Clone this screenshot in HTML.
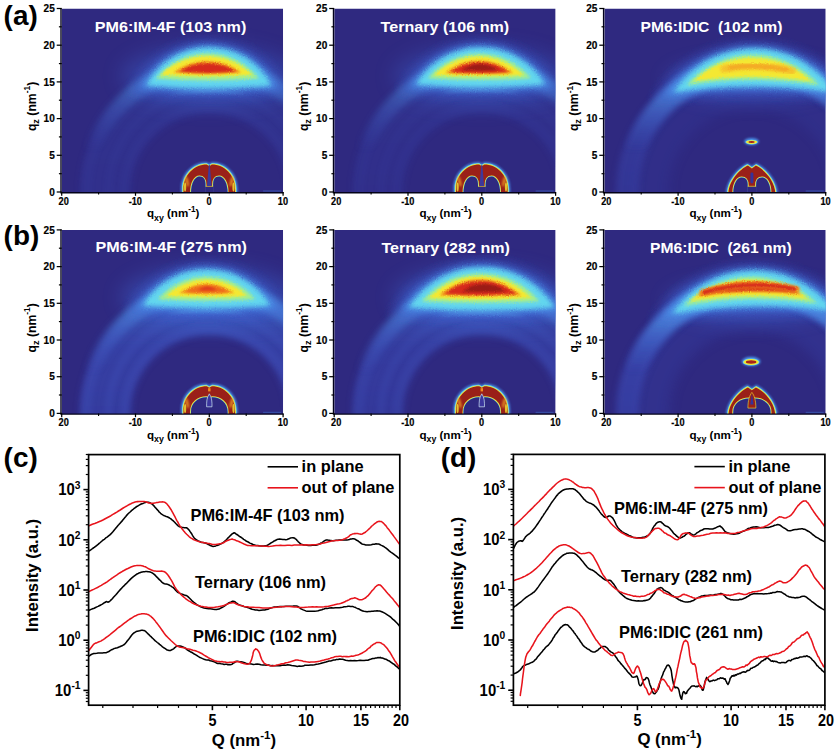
<!DOCTYPE html>
<html><head><meta charset="utf-8"><title>GIWAXS figure</title>
<style>html,body{margin:0;padding:0;background:#fff;}svg{display:block;}</style>
</head><body>
<svg width="838" height="755" viewBox="0 0 838 755">
<defs>
<clipPath id="cp0"><rect x="61.7" y="8.5" width="221.4" height="184.1"/></clipPath>
<clipPath id="cp1"><rect x="334.2" y="8.5" width="221.4" height="184.1"/></clipPath>
<clipPath id="cp2"><rect x="604.3" y="8.5" width="221.4" height="184.1"/></clipPath>
<clipPath id="cp3"><rect x="61.7" y="229.9" width="221.4" height="184.1"/></clipPath>
<clipPath id="cp4"><rect x="334.2" y="229.9" width="221.4" height="184.1"/></clipPath>
<clipPath id="cp5"><rect x="604.3" y="229.9" width="221.4" height="184.1"/></clipPath>
<linearGradient id="hg0" gradientUnits="userSpaceOnUse" x1="0" y1="52.0" x2="0" y2="192.0"><stop offset="0" stop-color="#4f88e2"/><stop offset="0.22" stop-color="#456cd2"/><stop offset="0.55" stop-color="#3d50bc"/><stop offset="1" stop-color="#3b4ab4"/></linearGradient>
<linearGradient id="hg1" gradientUnits="userSpaceOnUse" x1="0" y1="273.4" x2="0" y2="413.4"><stop offset="0" stop-color="#4f88e2"/><stop offset="0.22" stop-color="#456cd2"/><stop offset="0.55" stop-color="#3d50bc"/><stop offset="1" stop-color="#3b4ab4"/></linearGradient>
<linearGradient id="wg0" gradientUnits="userSpaceOnUse" x1="0" y1="57.0" x2="0" y2="152.0"><stop offset="0" stop-color="#66d0f0" stop-opacity="1"/><stop offset="0.3" stop-color="#56a6ea" stop-opacity="0.95"/><stop offset="0.6" stop-color="#4a7cdc" stop-opacity="0.55"/><stop offset="1" stop-color="#4468d0" stop-opacity="0"/></linearGradient>
<linearGradient id="wg1" gradientUnits="userSpaceOnUse" x1="0" y1="278.4" x2="0" y2="373.4"><stop offset="0" stop-color="#66d0f0" stop-opacity="1"/><stop offset="0.3" stop-color="#56a6ea" stop-opacity="0.95"/><stop offset="0.6" stop-color="#4a7cdc" stop-opacity="0.55"/><stop offset="1" stop-color="#4468d0" stop-opacity="0"/></linearGradient>
<filter id="b0_3" x="-60%" y="-60%" width="220%" height="220%"><feGaussianBlur stdDeviation="0.3"/></filter>
<filter id="b0_35" x="-60%" y="-60%" width="220%" height="220%"><feGaussianBlur stdDeviation="0.35"/></filter>
<filter id="b0_4" x="-60%" y="-60%" width="220%" height="220%"><feGaussianBlur stdDeviation="0.4"/></filter>
<filter id="b0_5" x="-60%" y="-60%" width="220%" height="220%"><feGaussianBlur stdDeviation="0.5"/></filter>
<filter id="b0_7" x="-60%" y="-60%" width="220%" height="220%"><feGaussianBlur stdDeviation="0.7"/></filter>
<filter id="b0_8" x="-60%" y="-60%" width="220%" height="220%"><feGaussianBlur stdDeviation="0.8"/></filter>
<filter id="b0_9" x="-60%" y="-60%" width="220%" height="220%"><feGaussianBlur stdDeviation="0.9"/></filter>
<filter id="b1_0" x="-60%" y="-60%" width="220%" height="220%"><feGaussianBlur stdDeviation="1.0"/></filter>
<filter id="b1_1" x="-60%" y="-60%" width="220%" height="220%"><feGaussianBlur stdDeviation="1.1"/></filter>
<filter id="b1_2" x="-60%" y="-60%" width="220%" height="220%"><feGaussianBlur stdDeviation="1.2"/></filter>
<filter id="b1_4" x="-60%" y="-60%" width="220%" height="220%"><feGaussianBlur stdDeviation="1.4"/></filter>
<filter id="b1_5" x="-60%" y="-60%" width="220%" height="220%"><feGaussianBlur stdDeviation="1.5"/></filter>
<filter id="b2_0" x="-60%" y="-60%" width="220%" height="220%"><feGaussianBlur stdDeviation="2.0"/></filter>
<filter id="b2_5" x="-60%" y="-60%" width="220%" height="220%"><feGaussianBlur stdDeviation="2.5"/></filter>
<filter id="b3" x="-60%" y="-60%" width="220%" height="220%"><feGaussianBlur stdDeviation="3"/></filter>
<filter id="b3_2" x="-60%" y="-60%" width="220%" height="220%"><feGaussianBlur stdDeviation="3.2"/></filter>
<filter id="b5" x="-60%" y="-60%" width="220%" height="220%"><feGaussianBlur stdDeviation="5"/></filter>
<filter id="b6" x="-60%" y="-60%" width="220%" height="220%"><feGaussianBlur stdDeviation="6"/></filter>
<filter id="b9" x="-60%" y="-60%" width="220%" height="220%"><feGaussianBlur stdDeviation="9"/></filter>
<filter id="b10" x="-60%" y="-60%" width="220%" height="220%"><feGaussianBlur stdDeviation="10"/></filter>
<filter id="grain" x="-15%" y="-30%" width="130%" height="160%"><feTurbulence type="fractalNoise" baseFrequency="0.85" numOctaves="1" seed="7" result="n"/><feDisplacementMap in="SourceGraphic" in2="n" scale="3.2" xChannelSelector="R" yChannelSelector="G"/></filter>
</defs>
<rect width="838" height="755" fill="#fff"/>
<g clip-path="url(#cp0)">
<rect x="61.7" y="8.5" width="221.4" height="184.5" fill="#2f2980"/>
<circle cx="209.3" cy="192.0" r="104" fill="none" stroke="url(#hg0)" stroke-width="52" opacity="0.22" filter="url(#b3)"/>
<circle cx="209.3" cy="192.0" r="123" fill="none" stroke="#4a60cc" stroke-width="11" opacity="0.06" filter="url(#b2_5)"/>
<circle cx="209.3" cy="192.0" r="101" fill="none" stroke="#4a60cc" stroke-width="8" opacity="0.06" filter="url(#b2_5)"/>
<circle cx="209.3" cy="192.0" r="85" fill="none" stroke="#4a60cc" stroke-width="9" opacity="0.06" filter="url(#b2_5)"/>
<ellipse cx="209.3" cy="76.0" rx="88" ry="30" fill="#4068d4" opacity="0.36" filter="url(#b10)"/>
<circle cx="209.3" cy="192.0" r="124.5" fill="none" stroke="url(#wg0)" stroke-width="17" opacity="0.4" filter="url(#b3)"/>
<g filter="url(#grain)">
<path d="M170.21,93.80 A180.29,180.29 0 0 1 247.59,93.80 A624.25,624.25 0 0 0 170.21,93.80Z" fill="#6cc8ee" opacity="0.5" filter="url(#b1_4)"/>
<path d="M129.10,93.00 A85.96,85.96 0 0 1 288.70,93.00 A561.45,561.45 0 0 1 129.10,93.00Z" fill="#3f63d6" opacity="0.38" filter="url(#b5)"/>
<path d="M139.90,88.00 A76.47,76.47 0 0 1 277.90,88.00 A568.89,568.89 0 0 1 139.90,88.00Z" fill="#4a8fe8" opacity="0.8" filter="url(#b3_2)"/>
<path d="M146.50,85.20 A70.40,70.40 0 0 1 271.30,85.20 A629.58,629.58 0 0 1 146.50,85.20Z" fill="#62d6ee" opacity="1" filter="url(#b2_0)"/>
<path d="M156.06,78.48 A65.09,65.09 0 0 1 258.87,78.48 A668.28,668.28 0 0 1 156.06,78.48Z" fill="#a6ee8c" opacity="1" filter="url(#b1_5)"/>
<path d="M160.82,74.80 A65.38,65.38 0 0 1 252.18,74.80 A696.15,696.15 0 0 1 160.82,74.80Z" fill="#f4e833" opacity="1" filter="url(#b1_2)"/>
<path d="M173.42,72.56 A55.60,55.60 0 0 1 241.21,72.56 A401.91,401.91 0 0 1 173.42,72.56Z" fill="#f3901f" opacity="1.0" filter="url(#b1_0)"/>
<path d="M179.34,71.50 A53.12,53.12 0 0 1 236.05,71.50 A287.85,287.85 0 0 1 179.34,71.50Z" fill="#d62a1d" opacity="1.0" filter="url(#b0_9)"/>
</g>
<path d="M180.90,193.00 L180.90,189.00 C180.90,173.40 192.83,162.00 206.46,162.00 L209.30,163.60 L212.14,162.00 C225.77,162.00 237.70,173.40 237.70,189.00 L237.70,193.00Z" fill="#4a8fe8" opacity="0.9" filter="url(#b1_2)"/>
<path d="M182.00,193.00 L182.00,189.11 C182.00,174.08 193.47,163.10 206.57,163.10 L209.30,164.70 L212.03,163.10 C225.13,163.10 236.60,174.08 236.60,189.11 L236.60,193.00Z" fill="#62d6ee" filter="url(#b0_5)"/>
<path d="M182.70,193.00 L182.70,189.18 C182.70,174.52 193.87,163.80 206.64,163.80 L209.30,165.40 L211.96,163.80 C224.73,163.80 235.90,174.52 235.90,189.18 L235.90,193.00Z" fill="#f4e833" filter="url(#b0_35)"/>
<path d="M183.50,193.00 L183.50,189.26 C183.50,175.01 194.34,164.60 206.72,164.60 L209.30,166.20 L211.88,164.60 C224.26,164.60 235.10,175.01 235.10,189.26 L235.10,193.00Z" fill="#9a2019"/>
<path d="M191.00,193.00 C191.00,182.64 195.06,176.40 199.41,176.40 C204.05,176.40 205.50,179.52 205.50,184.98 L205.50,193.00Z" fill="#f4e833" stroke="#f4e833" stroke-width="2.0" filter="url(#b0_4)"/>
<path d="M191.00,193.00 C191.00,182.64 195.06,176.40 199.41,176.40 C204.05,176.40 205.50,179.52 205.50,184.98 L205.50,193.00Z" fill="#62d6ee" stroke="#62d6ee" stroke-width="0.7" filter="url(#b0_35)"/>
<path d="M191.00,193.00 C191.00,182.64 195.06,176.40 199.41,176.40 C204.05,176.40 205.50,179.52 205.50,184.98 L205.50,193.00Z" fill="#2f2980"/>
<path d="M227.60,193.00 C227.60,182.64 223.54,176.40 219.19,176.40 C214.55,176.40 213.10,179.52 213.10,184.98 L213.10,193.00Z" fill="#f4e833" stroke="#f4e833" stroke-width="2.0" filter="url(#b0_4)"/>
<path d="M227.60,193.00 C227.60,182.64 223.54,176.40 219.19,176.40 C214.55,176.40 213.10,179.52 213.10,184.98 L213.10,193.00Z" fill="#62d6ee" stroke="#62d6ee" stroke-width="0.7" filter="url(#b0_35)"/>
<path d="M227.60,193.00 C227.60,182.64 223.54,176.40 219.19,176.40 C214.55,176.40 213.10,179.52 213.10,184.98 L213.10,193.00Z" fill="#2f2980"/>
<rect x="205.20" y="186.40" width="8.20" height="7" fill="#2f2980"/>
<line x1="205.50" x2="213.10" y1="186.30" y2="186.30" stroke="#f4e833" stroke-width="0.8" opacity="0.8"/>
<path d="M208.80,165.10 L207.00,186.00 L211.60,186.00 L209.80,165.10Z" fill="#3d379c" filter="url(#b0_5)"/>
<ellipse cx="187.00" cy="181.50" rx="1.5" ry="5.2" transform="rotate(-14 187.00 181.50)" fill="#f0a024" opacity="0.85" filter="url(#b0_9)"/>
<ellipse cx="185.10" cy="187.00" rx="1.1" ry="4.5" fill="#f4e833" opacity="0.8" filter="url(#b0_7)"/>
<ellipse cx="231.60" cy="181.50" rx="1.5" ry="5.2" transform="rotate(14 231.60 181.50)" fill="#f0a024" opacity="0.85" filter="url(#b0_9)"/>
<ellipse cx="233.50" cy="187.00" rx="1.1" ry="4.5" fill="#f4e833" opacity="0.8" filter="url(#b0_7)"/>
<rect x="263.1" y="190.4" width="18" height="1.2" fill="#4a8fe8" opacity="0.35" filter="url(#b0_5)"/>
</g>
<text x="94.7" y="32.3" textLength="151.6" lengthAdjust="spacingAndGlyphs" xml:space="preserve" font-family="Liberation Sans, Arial, sans-serif" font-weight="bold" font-size="15.4" fill="#fff">PM6:IM-4F (103 nm)</text>
<path d="M61.0,8.2 V192.8 H283.6" fill="none" stroke="#03021a" stroke-width="1.4"/>
<line x1="56.7" x2="61.7" y1="192.0" y2="192.0" stroke="#000" stroke-width="1.25"/>
<text transform="translate(54.8,195.6) scale(0.915,1)" text-anchor="end" font-family="Liberation Sans, Arial, sans-serif" font-weight="bold" font-size="11.0" stroke="#000" stroke-width="0.2">0</text>
<line x1="56.7" x2="61.7" y1="155.3" y2="155.3" stroke="#000" stroke-width="1.25"/>
<text transform="translate(54.8,158.9) scale(0.915,1)" text-anchor="end" font-family="Liberation Sans, Arial, sans-serif" font-weight="bold" font-size="11.0" stroke="#000" stroke-width="0.2">5</text>
<line x1="56.7" x2="61.7" y1="118.6" y2="118.6" stroke="#000" stroke-width="1.25"/>
<text transform="translate(54.8,122.2) scale(0.915,1)" text-anchor="end" font-family="Liberation Sans, Arial, sans-serif" font-weight="bold" font-size="11.0" stroke="#000" stroke-width="0.2">10</text>
<line x1="56.7" x2="61.7" y1="81.9" y2="81.9" stroke="#000" stroke-width="1.25"/>
<text transform="translate(54.8,85.5) scale(0.915,1)" text-anchor="end" font-family="Liberation Sans, Arial, sans-serif" font-weight="bold" font-size="11.0" stroke="#000" stroke-width="0.2">15</text>
<line x1="56.7" x2="61.7" y1="45.2" y2="45.2" stroke="#000" stroke-width="1.25"/>
<text transform="translate(54.8,48.8) scale(0.915,1)" text-anchor="end" font-family="Liberation Sans, Arial, sans-serif" font-weight="bold" font-size="11.0" stroke="#000" stroke-width="0.2">20</text>
<line x1="56.7" x2="61.7" y1="8.5" y2="8.5" stroke="#000" stroke-width="1.25"/>
<text transform="translate(54.8,12.1) scale(0.915,1)" text-anchor="end" font-family="Liberation Sans, Arial, sans-serif" font-weight="bold" font-size="11.0" stroke="#000" stroke-width="0.2">25</text>
<line x1="58.9" x2="61.7" y1="173.7" y2="173.7" stroke="#000" stroke-width="1.2"/>
<line x1="58.9" x2="61.7" y1="136.9" y2="136.9" stroke="#000" stroke-width="1.2"/>
<line x1="58.9" x2="61.7" y1="100.2" y2="100.2" stroke="#000" stroke-width="1.2"/>
<line x1="58.9" x2="61.7" y1="63.6" y2="63.6" stroke="#000" stroke-width="1.2"/>
<line x1="58.9" x2="61.7" y1="26.8" y2="26.8" stroke="#000" stroke-width="1.2"/>
<line x1="61.7" x2="61.7" y1="192.0" y2="195.8" stroke="#000" stroke-width="1.25"/>
<text transform="translate(63.7,204.8) scale(0.92,1)" text-anchor="middle" font-family="Liberation Sans, Arial, sans-serif" font-weight="bold" font-size="10.0" stroke="#000" stroke-width="0.2">20</text>
<line x1="135.5" x2="135.5" y1="192.0" y2="195.8" stroke="#000" stroke-width="1.25"/>
<text transform="translate(135.3,204.8) scale(0.92,1)" text-anchor="middle" font-family="Liberation Sans, Arial, sans-serif" font-weight="bold" font-size="10.0" stroke="#000" stroke-width="0.2">-10</text>
<line x1="209.3" x2="209.3" y1="192.0" y2="195.8" stroke="#000" stroke-width="1.25"/>
<text transform="translate(209.1,204.8) scale(0.92,1)" text-anchor="middle" font-family="Liberation Sans, Arial, sans-serif" font-weight="bold" font-size="10.0" stroke="#000" stroke-width="0.2">0</text>
<line x1="283.1" x2="283.1" y1="192.0" y2="195.8" stroke="#000" stroke-width="1.25"/>
<text transform="translate(282.9,204.8) scale(0.92,1)" text-anchor="middle" font-family="Liberation Sans, Arial, sans-serif" font-weight="bold" font-size="10.0" stroke="#000" stroke-width="0.2">10</text>
<line x1="98.6" x2="98.6" y1="192.0" y2="194.6" stroke="#000" stroke-width="1.1"/>
<line x1="172.4" x2="172.4" y1="192.0" y2="194.6" stroke="#000" stroke-width="1.1"/>
<line x1="246.2" x2="246.2" y1="192.0" y2="194.6" stroke="#000" stroke-width="1.1"/>
<text x="146.9" y="217.4" font-family="Liberation Sans, Arial, sans-serif" font-weight="bold" font-size="11.6">q<tspan dy="3.6" font-size="8.8">xy</tspan><tspan dy="-3.6"> (nm</tspan><tspan dy="-5" font-size="8.2">-1</tspan><tspan dy="5">)</tspan></text>
<text transform="translate(35.7,131.1) rotate(-90)" font-family="Liberation Sans, Arial, sans-serif" font-weight="bold" font-size="12.2">q<tspan dy="3.0" font-size="9.2">z</tspan><tspan dy="-3.0"> (nm</tspan><tspan dy="-5.8" font-size="8.4">-1</tspan><tspan dy="5.8">)</tspan></text>
<g clip-path="url(#cp1)">
<rect x="334.2" y="8.5" width="221.4" height="184.5" fill="#2f2980"/>
<circle cx="481.8" cy="192.0" r="104" fill="none" stroke="url(#hg0)" stroke-width="52" opacity="0.19" filter="url(#b3)"/>
<circle cx="481.8" cy="192.0" r="123" fill="none" stroke="#4a60cc" stroke-width="11" opacity="0.05" filter="url(#b2_5)"/>
<circle cx="481.8" cy="192.0" r="101" fill="none" stroke="#4a60cc" stroke-width="8" opacity="0.05" filter="url(#b2_5)"/>
<circle cx="481.8" cy="192.0" r="85" fill="none" stroke="#4a60cc" stroke-width="9" opacity="0.05" filter="url(#b2_5)"/>
<ellipse cx="481.8" cy="76.0" rx="88" ry="30" fill="#4068d4" opacity="0.33" filter="url(#b10)"/>
<circle cx="481.8" cy="192.0" r="124.5" fill="none" stroke="url(#wg0)" stroke-width="17" opacity="0.4" filter="url(#b3)"/>
<g filter="url(#grain)">
<path d="M440.72,92.70 A190.53,190.53 0 0 1 520.28,92.70 A660.09,660.09 0 0 0 440.72,92.70Z" fill="#6cc8ee" opacity="0.5" filter="url(#b1_4)"/>
<path d="M398.44,92.00 A90.24,90.24 0 0 1 562.56,92.00 A604.05,604.05 0 0 1 398.44,92.00Z" fill="#3f63d6" opacity="0.38" filter="url(#b5)"/>
<path d="M409.55,87.00 A80.75,80.75 0 0 1 551.46,87.00 A616.03,616.03 0 0 1 409.55,87.00Z" fill="#4a8fe8" opacity="0.8" filter="url(#b3_2)"/>
<path d="M416.33,84.20 A74.65,74.65 0 0 1 544.67,84.20 A687.76,687.76 0 0 1 416.33,84.20Z" fill="#62d6ee" opacity="1" filter="url(#b2_0)"/>
<path d="M428.03,78.26 A66.15,66.15 0 0 1 530.94,78.26 A753.04,753.04 0 0 1 428.03,78.26Z" fill="#a6ee8c" opacity="1" filter="url(#b1_5)"/>
<path d="M434.18,75.10 A63.07,63.07 0 0 1 523.42,75.10 A830.35,830.35 0 0 1 434.18,75.10Z" fill="#f4e833" opacity="1" filter="url(#b1_2)"/>
<path d="M445.28,72.99 A52.45,52.45 0 0 1 513.13,72.99 A541.38,541.38 0 0 1 445.28,72.99Z" fill="#f3901f" opacity="1.0" filter="url(#b1_0)"/>
<path d="M450.51,72.00 A48.27,48.27 0 0 1 508.29,72.00 A417.82,417.82 0 0 1 450.51,72.00Z" fill="#d62a1d" opacity="1.0" filter="url(#b0_9)"/>
<path d="M461.64,70.00 A31.96,31.96 0 0 1 498.36,70.00 A241.13,241.13 0 0 1 461.64,70.00Z" fill="#9c1f18" opacity="1" filter="url(#b0_9)"/>
</g>
<path d="M453.40,193.00 L453.40,189.00 C453.40,173.40 465.33,162.00 478.96,162.00 L481.80,163.60 L484.64,162.00 C498.27,162.00 510.20,173.40 510.20,189.00 L510.20,193.00Z" fill="#4a8fe8" opacity="0.9" filter="url(#b1_2)"/>
<path d="M454.50,193.00 L454.50,189.11 C454.50,174.08 465.97,163.10 479.07,163.10 L481.80,164.70 L484.53,163.10 C497.63,163.10 509.10,174.08 509.10,189.11 L509.10,193.00Z" fill="#62d6ee" filter="url(#b0_5)"/>
<path d="M455.20,193.00 L455.20,189.18 C455.20,174.52 466.37,163.80 479.14,163.80 L481.80,165.40 L484.46,163.80 C497.23,163.80 508.40,174.52 508.40,189.18 L508.40,193.00Z" fill="#f4e833" filter="url(#b0_35)"/>
<path d="M456.00,193.00 L456.00,189.26 C456.00,175.01 466.84,164.60 479.22,164.60 L481.80,166.20 L484.38,164.60 C496.76,164.60 507.60,175.01 507.60,189.26 L507.60,193.00Z" fill="#9a2019"/>
<path d="M463.50,193.00 C463.50,182.64 467.56,176.40 471.91,176.40 C476.55,176.40 478.00,179.52 478.00,184.98 L478.00,193.00Z" fill="#f4e833" stroke="#f4e833" stroke-width="2.0" filter="url(#b0_4)"/>
<path d="M463.50,193.00 C463.50,182.64 467.56,176.40 471.91,176.40 C476.55,176.40 478.00,179.52 478.00,184.98 L478.00,193.00Z" fill="#62d6ee" stroke="#62d6ee" stroke-width="0.7" filter="url(#b0_35)"/>
<path d="M463.50,193.00 C463.50,182.64 467.56,176.40 471.91,176.40 C476.55,176.40 478.00,179.52 478.00,184.98 L478.00,193.00Z" fill="#2f2980"/>
<path d="M500.10,193.00 C500.10,182.64 496.04,176.40 491.69,176.40 C487.05,176.40 485.60,179.52 485.60,184.98 L485.60,193.00Z" fill="#f4e833" stroke="#f4e833" stroke-width="2.0" filter="url(#b0_4)"/>
<path d="M500.10,193.00 C500.10,182.64 496.04,176.40 491.69,176.40 C487.05,176.40 485.60,179.52 485.60,184.98 L485.60,193.00Z" fill="#62d6ee" stroke="#62d6ee" stroke-width="0.7" filter="url(#b0_35)"/>
<path d="M500.10,193.00 C500.10,182.64 496.04,176.40 491.69,176.40 C487.05,176.40 485.60,179.52 485.60,184.98 L485.60,193.00Z" fill="#2f2980"/>
<rect x="477.70" y="186.40" width="8.20" height="7" fill="#2f2980"/>
<line x1="478.00" x2="485.60" y1="186.30" y2="186.30" stroke="#f4e833" stroke-width="0.8" opacity="0.8"/>
<path d="M481.30,165.10 L479.50,186.00 L484.10,186.00 L482.30,165.10Z" fill="#3d379c" filter="url(#b0_5)"/>
<ellipse cx="459.50" cy="181.50" rx="1.5" ry="5.2" transform="rotate(-14 459.50 181.50)" fill="#f0a024" opacity="0.85" filter="url(#b0_9)"/>
<ellipse cx="457.60" cy="187.00" rx="1.1" ry="4.5" fill="#f4e833" opacity="0.8" filter="url(#b0_7)"/>
<ellipse cx="504.10" cy="181.50" rx="1.5" ry="5.2" transform="rotate(14 504.10 181.50)" fill="#f0a024" opacity="0.85" filter="url(#b0_9)"/>
<ellipse cx="506.00" cy="187.00" rx="1.1" ry="4.5" fill="#f4e833" opacity="0.8" filter="url(#b0_7)"/>
<rect x="535.6" y="190.4" width="18" height="1.2" fill="#4a8fe8" opacity="0.35" filter="url(#b0_5)"/>
</g>
<text x="380.6" y="32.4" textLength="128.6" lengthAdjust="spacingAndGlyphs" xml:space="preserve" font-family="Liberation Sans, Arial, sans-serif" font-weight="bold" font-size="15.4" fill="#fff">Ternary (106 nm)</text>
<path d="M333.5,8.2 V192.8 H556.1" fill="none" stroke="#03021a" stroke-width="1.4"/>
<line x1="329.2" x2="334.2" y1="192.0" y2="192.0" stroke="#000" stroke-width="1.25"/>
<text transform="translate(327.3,195.6) scale(0.915,1)" text-anchor="end" font-family="Liberation Sans, Arial, sans-serif" font-weight="bold" font-size="11.0" stroke="#000" stroke-width="0.2">0</text>
<line x1="329.2" x2="334.2" y1="155.3" y2="155.3" stroke="#000" stroke-width="1.25"/>
<text transform="translate(327.3,158.9) scale(0.915,1)" text-anchor="end" font-family="Liberation Sans, Arial, sans-serif" font-weight="bold" font-size="11.0" stroke="#000" stroke-width="0.2">5</text>
<line x1="329.2" x2="334.2" y1="118.6" y2="118.6" stroke="#000" stroke-width="1.25"/>
<text transform="translate(327.3,122.2) scale(0.915,1)" text-anchor="end" font-family="Liberation Sans, Arial, sans-serif" font-weight="bold" font-size="11.0" stroke="#000" stroke-width="0.2">10</text>
<line x1="329.2" x2="334.2" y1="81.9" y2="81.9" stroke="#000" stroke-width="1.25"/>
<text transform="translate(327.3,85.5) scale(0.915,1)" text-anchor="end" font-family="Liberation Sans, Arial, sans-serif" font-weight="bold" font-size="11.0" stroke="#000" stroke-width="0.2">15</text>
<line x1="329.2" x2="334.2" y1="45.2" y2="45.2" stroke="#000" stroke-width="1.25"/>
<text transform="translate(327.3,48.8) scale(0.915,1)" text-anchor="end" font-family="Liberation Sans, Arial, sans-serif" font-weight="bold" font-size="11.0" stroke="#000" stroke-width="0.2">20</text>
<line x1="329.2" x2="334.2" y1="8.5" y2="8.5" stroke="#000" stroke-width="1.25"/>
<text transform="translate(327.3,12.1) scale(0.915,1)" text-anchor="end" font-family="Liberation Sans, Arial, sans-serif" font-weight="bold" font-size="11.0" stroke="#000" stroke-width="0.2">25</text>
<line x1="331.4" x2="334.2" y1="173.7" y2="173.7" stroke="#000" stroke-width="1.2"/>
<line x1="331.4" x2="334.2" y1="136.9" y2="136.9" stroke="#000" stroke-width="1.2"/>
<line x1="331.4" x2="334.2" y1="100.2" y2="100.2" stroke="#000" stroke-width="1.2"/>
<line x1="331.4" x2="334.2" y1="63.6" y2="63.6" stroke="#000" stroke-width="1.2"/>
<line x1="331.4" x2="334.2" y1="26.8" y2="26.8" stroke="#000" stroke-width="1.2"/>
<line x1="334.2" x2="334.2" y1="192.0" y2="195.8" stroke="#000" stroke-width="1.25"/>
<text transform="translate(336.2,204.8) scale(0.92,1)" text-anchor="middle" font-family="Liberation Sans, Arial, sans-serif" font-weight="bold" font-size="10.0" stroke="#000" stroke-width="0.2">20</text>
<line x1="408.0" x2="408.0" y1="192.0" y2="195.8" stroke="#000" stroke-width="1.25"/>
<text transform="translate(407.8,204.8) scale(0.92,1)" text-anchor="middle" font-family="Liberation Sans, Arial, sans-serif" font-weight="bold" font-size="10.0" stroke="#000" stroke-width="0.2">-10</text>
<line x1="481.8" x2="481.8" y1="192.0" y2="195.8" stroke="#000" stroke-width="1.25"/>
<text transform="translate(481.6,204.8) scale(0.92,1)" text-anchor="middle" font-family="Liberation Sans, Arial, sans-serif" font-weight="bold" font-size="10.0" stroke="#000" stroke-width="0.2">0</text>
<line x1="555.6" x2="555.6" y1="192.0" y2="195.8" stroke="#000" stroke-width="1.25"/>
<text transform="translate(555.4,204.8) scale(0.92,1)" text-anchor="middle" font-family="Liberation Sans, Arial, sans-serif" font-weight="bold" font-size="10.0" stroke="#000" stroke-width="0.2">10</text>
<line x1="371.1" x2="371.1" y1="192.0" y2="194.6" stroke="#000" stroke-width="1.1"/>
<line x1="444.9" x2="444.9" y1="192.0" y2="194.6" stroke="#000" stroke-width="1.1"/>
<line x1="518.7" x2="518.7" y1="192.0" y2="194.6" stroke="#000" stroke-width="1.1"/>
<text x="419.4" y="217.4" font-family="Liberation Sans, Arial, sans-serif" font-weight="bold" font-size="11.6">q<tspan dy="3.6" font-size="8.8">xy</tspan><tspan dy="-3.6"> (nm</tspan><tspan dy="-5" font-size="8.2">-1</tspan><tspan dy="5">)</tspan></text>
<text transform="translate(308.2,131.1) rotate(-90)" font-family="Liberation Sans, Arial, sans-serif" font-weight="bold" font-size="12.2">q<tspan dy="3.0" font-size="9.2">z</tspan><tspan dy="-3.0"> (nm</tspan><tspan dy="-5.8" font-size="8.4">-1</tspan><tspan dy="5.8">)</tspan></text>
<g clip-path="url(#cp2)">
<rect x="604.3" y="8.5" width="221.4" height="184.5" fill="#2f2980"/>
<circle cx="751.9" cy="192.0" r="100" fill="none" stroke="#3843a8" stroke-width="34" opacity="0.23" filter="url(#b6)"/>
<circle cx="751.9" cy="192.0" r="124.5" fill="none" stroke="url(#hg0)" stroke-width="23" opacity="0.42" filter="url(#b3)"/>
<ellipse cx="751.9" cy="80.0" rx="86" ry="22" fill="#4068d4" opacity="0.36" filter="url(#b9)"/>
<circle cx="751.9" cy="192.0" r="124.5" fill="none" stroke="url(#wg0)" stroke-width="20" opacity="0.75" filter="url(#b3)"/>
<g filter="url(#grain)">
<path d="M651.59,100.00 A117.78,117.78 0 0 1 856.41,100.00 A1458.44,1458.44 0 0 0 651.59,100.00Z" fill="#3f63d6" opacity="0.38" filter="url(#b5)"/>
<path d="M665.45,95.00 A104.40,104.40 0 0 1 842.55,95.00 A771.29,771.29 0 0 0 665.45,95.00Z" fill="#4a8fe8" opacity="0.8" filter="url(#b3_2)"/>
<path d="M673.92,92.20 A95.58,95.58 0 0 1 834.08,92.20 A520.26,520.26 0 0 0 673.92,92.20Z" fill="#62d6ee" opacity="1" filter="url(#b2_0)"/>
<path d="M686.84,85.06 A87.36,87.36 0 0 1 819.00,85.06 A416.14,416.14 0 0 0 686.84,85.06Z" fill="#a6ee8c" opacity="1" filter="url(#b1_5)"/>
<path d="M693.40,81.10 A85.84,85.84 0 0 1 811.00,81.10 A395.09,395.09 0 0 0 693.40,81.10Z" fill="#f4e833" opacity="1" filter="url(#b1_2)"/>
<path d="M724,68.8 A170,170 0 0 1 792,71.0" fill="none" stroke="#f5b32a" stroke-width="7.5" stroke-linecap="round" opacity="0.7" filter="url(#b1_4)"/>
<path d="M730,67.6 A170,170 0 0 1 786,69.6" fill="none" stroke="#f3901f" stroke-width="4.4" stroke-linecap="round" opacity="0.5" filter="url(#b1_1)"/>
</g>
<path d="M725.90,193.00 C726.42,179.82 738.38,167.06 747.48,163.00 L751.90,165.90 L756.32,163.00 C765.42,167.06 777.38,179.82 777.90,193.00Z" fill="#4a8fe8" opacity="0.9" filter="url(#b1_2)"/>
<path d="M727.00,193.00 C727.50,180.28 738.95,168.01 747.67,164.10 L751.90,167.00 L756.13,164.10 C764.85,168.01 776.30,180.28 776.80,193.00Z" fill="#62d6ee" filter="url(#b0_5)"/>
<path d="M727.70,193.00 C728.18,180.58 739.32,168.61 747.79,164.80 L751.90,167.70 L756.01,164.80 C764.48,168.61 775.62,180.58 776.10,193.00Z" fill="#f4e833" filter="url(#b0_35)"/>
<path d="M728.50,193.00 C728.97,180.91 739.73,169.30 747.92,165.60 L751.90,168.50 L755.88,165.60 C764.07,169.30 774.83,180.91 775.30,193.00Z" fill="#9a2019"/>
<path d="M733.30,193.00 C733.30,183.24 737.33,177.40 741.65,177.40 C746.26,177.40 747.70,180.32 747.70,185.43 L747.70,193.00Z" fill="#f4e833" stroke="#f4e833" stroke-width="2.0" filter="url(#b0_4)"/>
<path d="M733.30,193.00 C733.30,183.24 737.33,177.40 741.65,177.40 C746.26,177.40 747.70,180.32 747.70,185.43 L747.70,193.00Z" fill="#62d6ee" stroke="#62d6ee" stroke-width="0.7" filter="url(#b0_35)"/>
<path d="M733.30,193.00 C733.30,183.24 737.33,177.40 741.65,177.40 C746.26,177.40 747.70,180.32 747.70,185.43 L747.70,193.00Z" fill="#2f2980"/>
<path d="M770.50,193.00 C770.50,183.24 766.47,177.40 762.15,177.40 C757.54,177.40 756.10,180.32 756.10,185.43 L756.10,193.00Z" fill="#f4e833" stroke="#f4e833" stroke-width="2.0" filter="url(#b0_4)"/>
<path d="M770.50,193.00 C770.50,183.24 766.47,177.40 762.15,177.40 C757.54,177.40 756.10,180.32 756.10,185.43 L756.10,193.00Z" fill="#62d6ee" stroke="#62d6ee" stroke-width="0.7" filter="url(#b0_35)"/>
<path d="M770.50,193.00 C770.50,183.24 766.47,177.40 762.15,177.40 C757.54,177.40 756.10,180.32 756.10,185.43 L756.10,193.00Z" fill="#2f2980"/>
<rect x="747.40" y="186.40" width="9.00" height="7" fill="#2f2980"/>
<line x1="747.70" x2="756.10" y1="186.30" y2="186.30" stroke="#f4e833" stroke-width="0.8" opacity="0.8"/>
<rect x="750.40" y="172.50" width="3" height="11" rx="1.4" fill="#34309a" filter="url(#b0_4)"/>
<ellipse cx="751.60" cy="141.50" rx="7.30" ry="3.40" fill="#4a8fe8" filter="url(#b0_8)"/>
<ellipse cx="751.60" cy="142.10" rx="6.20" ry="2.40" fill="#62d6ee" filter="url(#b0_4)"/>
<ellipse cx="751.60" cy="142.10" rx="5.50" ry="1.80" fill="#f4e833" filter="url(#b0_35)"/>
<ellipse cx="751.60" cy="142.10" rx="3.20" ry="1.00" fill="#a8241a"/>
<rect x="805.7" y="190.4" width="18" height="1.2" fill="#4a8fe8" opacity="0.35" filter="url(#b0_5)"/>
</g>
<text x="640.6" y="32.2" textLength="141.8" lengthAdjust="spacingAndGlyphs" xml:space="preserve" font-family="Liberation Sans, Arial, sans-serif" font-weight="bold" font-size="15.4" fill="#fff">PM6:IDIC  (102 nm)</text>
<path d="M603.6,8.2 V192.8 H826.2" fill="none" stroke="#03021a" stroke-width="1.4"/>
<line x1="599.3" x2="604.3" y1="192.0" y2="192.0" stroke="#000" stroke-width="1.25"/>
<text transform="translate(597.4,195.6) scale(0.915,1)" text-anchor="end" font-family="Liberation Sans, Arial, sans-serif" font-weight="bold" font-size="11.0" stroke="#000" stroke-width="0.2">0</text>
<line x1="599.3" x2="604.3" y1="155.3" y2="155.3" stroke="#000" stroke-width="1.25"/>
<text transform="translate(597.4,158.9) scale(0.915,1)" text-anchor="end" font-family="Liberation Sans, Arial, sans-serif" font-weight="bold" font-size="11.0" stroke="#000" stroke-width="0.2">5</text>
<line x1="599.3" x2="604.3" y1="118.6" y2="118.6" stroke="#000" stroke-width="1.25"/>
<text transform="translate(597.4,122.2) scale(0.915,1)" text-anchor="end" font-family="Liberation Sans, Arial, sans-serif" font-weight="bold" font-size="11.0" stroke="#000" stroke-width="0.2">10</text>
<line x1="599.3" x2="604.3" y1="81.9" y2="81.9" stroke="#000" stroke-width="1.25"/>
<text transform="translate(597.4,85.5) scale(0.915,1)" text-anchor="end" font-family="Liberation Sans, Arial, sans-serif" font-weight="bold" font-size="11.0" stroke="#000" stroke-width="0.2">15</text>
<line x1="599.3" x2="604.3" y1="45.2" y2="45.2" stroke="#000" stroke-width="1.25"/>
<text transform="translate(597.4,48.8) scale(0.915,1)" text-anchor="end" font-family="Liberation Sans, Arial, sans-serif" font-weight="bold" font-size="11.0" stroke="#000" stroke-width="0.2">20</text>
<line x1="599.3" x2="604.3" y1="8.5" y2="8.5" stroke="#000" stroke-width="1.25"/>
<text transform="translate(597.4,12.1) scale(0.915,1)" text-anchor="end" font-family="Liberation Sans, Arial, sans-serif" font-weight="bold" font-size="11.0" stroke="#000" stroke-width="0.2">25</text>
<line x1="601.5" x2="604.3" y1="173.7" y2="173.7" stroke="#000" stroke-width="1.2"/>
<line x1="601.5" x2="604.3" y1="136.9" y2="136.9" stroke="#000" stroke-width="1.2"/>
<line x1="601.5" x2="604.3" y1="100.2" y2="100.2" stroke="#000" stroke-width="1.2"/>
<line x1="601.5" x2="604.3" y1="63.6" y2="63.6" stroke="#000" stroke-width="1.2"/>
<line x1="601.5" x2="604.3" y1="26.8" y2="26.8" stroke="#000" stroke-width="1.2"/>
<line x1="604.3" x2="604.3" y1="192.0" y2="195.8" stroke="#000" stroke-width="1.25"/>
<text transform="translate(606.3,204.8) scale(0.92,1)" text-anchor="middle" font-family="Liberation Sans, Arial, sans-serif" font-weight="bold" font-size="10.0" stroke="#000" stroke-width="0.2">20</text>
<line x1="678.1" x2="678.1" y1="192.0" y2="195.8" stroke="#000" stroke-width="1.25"/>
<text transform="translate(677.9,204.8) scale(0.92,1)" text-anchor="middle" font-family="Liberation Sans, Arial, sans-serif" font-weight="bold" font-size="10.0" stroke="#000" stroke-width="0.2">-10</text>
<line x1="751.9" x2="751.9" y1="192.0" y2="195.8" stroke="#000" stroke-width="1.25"/>
<text transform="translate(751.7,204.8) scale(0.92,1)" text-anchor="middle" font-family="Liberation Sans, Arial, sans-serif" font-weight="bold" font-size="10.0" stroke="#000" stroke-width="0.2">0</text>
<line x1="825.7" x2="825.7" y1="192.0" y2="195.8" stroke="#000" stroke-width="1.25"/>
<text transform="translate(825.5,204.8) scale(0.92,1)" text-anchor="middle" font-family="Liberation Sans, Arial, sans-serif" font-weight="bold" font-size="10.0" stroke="#000" stroke-width="0.2">10</text>
<line x1="641.2" x2="641.2" y1="192.0" y2="194.6" stroke="#000" stroke-width="1.1"/>
<line x1="715.0" x2="715.0" y1="192.0" y2="194.6" stroke="#000" stroke-width="1.1"/>
<line x1="788.8" x2="788.8" y1="192.0" y2="194.6" stroke="#000" stroke-width="1.1"/>
<text x="689.5" y="217.4" font-family="Liberation Sans, Arial, sans-serif" font-weight="bold" font-size="11.6">q<tspan dy="3.6" font-size="8.8">xy</tspan><tspan dy="-3.6"> (nm</tspan><tspan dy="-5" font-size="8.2">-1</tspan><tspan dy="5">)</tspan></text>
<text transform="translate(578.3,131.1) rotate(-90)" font-family="Liberation Sans, Arial, sans-serif" font-weight="bold" font-size="12.2">q<tspan dy="3.0" font-size="9.2">z</tspan><tspan dy="-3.0"> (nm</tspan><tspan dy="-5.8" font-size="8.4">-1</tspan><tspan dy="5.8">)</tspan></text>
<g clip-path="url(#cp3)">
<rect x="61.7" y="229.9" width="221.4" height="184.5" fill="#2f2980"/>
<circle cx="209.3" cy="413.4" r="104" fill="none" stroke="url(#hg1)" stroke-width="52" opacity="0.6" filter="url(#b3)"/>
<circle cx="209.3" cy="413.4" r="123" fill="none" stroke="#4a60cc" stroke-width="11" opacity="0.18" filter="url(#b2_5)"/>
<circle cx="209.3" cy="413.4" r="101" fill="none" stroke="#4a60cc" stroke-width="8" opacity="0.18" filter="url(#b2_5)"/>
<circle cx="209.3" cy="413.4" r="85" fill="none" stroke="#4a60cc" stroke-width="9" opacity="0.18" filter="url(#b2_5)"/>
<ellipse cx="209.3" cy="297.4" rx="88" ry="30" fill="#4068d4" opacity="0.42" filter="url(#b10)"/>
<circle cx="209.3" cy="413.4" r="124.5" fill="none" stroke="url(#wg1)" stroke-width="17" opacity="0.5" filter="url(#b3)"/>
<g filter="url(#grain)">
<path d="M167.27,313.50 A186.27,186.27 0 0 1 245.93,313.50 A645.21,645.21 0 0 0 167.27,313.50Z" fill="#6cc8ee" opacity="0.5" filter="url(#b1_4)"/>
<path d="M125.47,313.00 A89.51,89.51 0 0 1 287.73,313.00 A612.15,612.15 0 0 1 125.47,313.00Z" fill="#3f63d6" opacity="0.38" filter="url(#b5)"/>
<path d="M136.45,308.00 A80.32,80.32 0 0 1 276.75,308.00 A632.85,632.85 0 0 1 136.45,308.00Z" fill="#4a8fe8" opacity="0.8" filter="url(#b3_2)"/>
<path d="M143.16,305.20 A74.43,74.43 0 0 1 270.04,305.20 A720.08,720.08 0 0 1 143.16,305.20Z" fill="#62d6ee" opacity="1" filter="url(#b2_0)"/>
<path d="M157.88,299.26 A63.21,63.21 0 0 1 255.19,299.26 A759.53,759.53 0 0 1 157.88,299.26Z" fill="#a6ee8c" opacity="1" filter="url(#b1_5)"/>
<path d="M166.07,296.10 A58.28,58.28 0 0 1 246.93,296.10 A817.59,817.59 0 0 1 166.07,296.10Z" fill="#f4e833" opacity="1" filter="url(#b1_2)"/>
<path d="M179.35,293.11 A45.03,45.03 0 0 1 234.33,293.11 A405.83,405.83 0 0 1 179.35,293.11Z" fill="#f3901f" opacity="1.0" filter="url(#b1_0)"/>
<path d="M185.60,291.70 A40.59,40.59 0 0 1 228.40,291.70 A254.87,254.87 0 0 1 185.60,291.70Z" fill="#ee6a1e" opacity="1.0" filter="url(#b0_9)"/>
</g>
<path d="M198.50,290.20 A13.05,13.05 0 0 1 216.50,290.20 A101.45,101.45 0 0 1 198.50,290.20Z" fill="#dd3a1c" filter="url(#b0_9)"/>
<path d="M180.90,414.40 L180.90,410.42 C180.90,394.92 192.83,383.60 206.46,383.60 L209.30,385.20 L212.14,383.60 C225.77,383.60 237.70,394.92 237.70,410.42 L237.70,414.40Z" fill="#4a8fe8" opacity="0.9" filter="url(#b1_2)"/>
<path d="M182.00,414.40 L182.00,410.53 C182.00,395.61 193.47,384.70 206.57,384.70 L209.30,386.30 L212.03,384.70 C225.13,384.70 236.60,395.61 236.60,410.53 L236.60,414.40Z" fill="#62d6ee" filter="url(#b0_5)"/>
<path d="M182.70,414.40 L182.70,410.60 C182.70,396.04 193.87,385.40 206.64,385.40 L209.30,387.00 L211.96,385.40 C224.73,385.40 235.90,396.04 235.90,410.60 L235.90,414.40Z" fill="#f4e833" filter="url(#b0_35)"/>
<path d="M183.50,414.40 L183.50,410.68 C183.50,396.54 194.34,386.20 206.72,386.20 L209.30,387.80 L211.88,386.20 C224.26,386.20 235.10,396.54 235.10,410.68 L235.10,414.40Z" fill="#9a2019"/>
<path d="M191.00,414.40 L191.00,411.78 C191.00,402.71 198.32,397.20 206.37,397.20 L209.30,398.50 L212.23,397.20 C220.28,397.20 227.60,402.71 227.60,411.78 L227.60,414.40Z" fill="#f4e833" stroke="#f4e833" stroke-width="2.0" filter="url(#b0_4)"/>
<path d="M191.00,414.40 L191.00,411.78 C191.00,402.71 198.32,397.20 206.37,397.20 L209.30,398.50 L212.23,397.20 C220.28,397.20 227.60,402.71 227.60,411.78 L227.60,414.40Z" fill="#62d6ee" stroke="#62d6ee" stroke-width="0.7" filter="url(#b0_35)"/>
<path d="M191.00,414.40 L191.00,411.78 C191.00,402.71 198.32,397.20 206.37,397.20 L209.30,398.50 L212.23,397.20 C220.28,397.20 227.60,402.71 227.60,411.78 L227.60,414.40Z" fill="#2f2980"/>
<path d="M209.30,393.80 C206.60,397.80 206.60,401.80 206.60,406.80 L212.00,406.80 C212.00,401.80 212.00,397.80 209.30,393.80Z" fill="#3a369e" stroke="#cfe6f2" stroke-width="0.7" filter="url(#b0_3)"/>
<rect x="208.10" y="388.20" width="2.4" height="3.2" fill="#f3901f" filter="url(#b0_5)"/>
<ellipse cx="187.00" cy="402.90" rx="1.5" ry="5.2" transform="rotate(-14 187.00 402.90)" fill="#f0a024" opacity="0.85" filter="url(#b0_9)"/>
<ellipse cx="185.10" cy="408.40" rx="1.1" ry="4.5" fill="#f4e833" opacity="0.8" filter="url(#b0_7)"/>
<ellipse cx="231.60" cy="402.90" rx="1.5" ry="5.2" transform="rotate(14 231.60 402.90)" fill="#f0a024" opacity="0.85" filter="url(#b0_9)"/>
<ellipse cx="233.50" cy="408.40" rx="1.1" ry="4.5" fill="#f4e833" opacity="0.8" filter="url(#b0_7)"/>
<rect x="263.1" y="411.8" width="18" height="1.2" fill="#4a8fe8" opacity="0.35" filter="url(#b0_5)"/>
</g>
<text x="95.5" y="252.4" textLength="151.4" lengthAdjust="spacingAndGlyphs" xml:space="preserve" font-family="Liberation Sans, Arial, sans-serif" font-weight="bold" font-size="15.4" fill="#fff">PM6:IM-4F (275 nm)</text>
<path d="M61.0,229.6 V414.1 H283.6" fill="none" stroke="#03021a" stroke-width="1.4"/>
<line x1="56.7" x2="61.7" y1="413.4" y2="413.4" stroke="#000" stroke-width="1.25"/>
<text transform="translate(54.8,417.0) scale(0.915,1)" text-anchor="end" font-family="Liberation Sans, Arial, sans-serif" font-weight="bold" font-size="11.0" stroke="#000" stroke-width="0.2">0</text>
<line x1="56.7" x2="61.7" y1="376.7" y2="376.7" stroke="#000" stroke-width="1.25"/>
<text transform="translate(54.8,380.3) scale(0.915,1)" text-anchor="end" font-family="Liberation Sans, Arial, sans-serif" font-weight="bold" font-size="11.0" stroke="#000" stroke-width="0.2">5</text>
<line x1="56.7" x2="61.7" y1="340.0" y2="340.0" stroke="#000" stroke-width="1.25"/>
<text transform="translate(54.8,343.6) scale(0.915,1)" text-anchor="end" font-family="Liberation Sans, Arial, sans-serif" font-weight="bold" font-size="11.0" stroke="#000" stroke-width="0.2">10</text>
<line x1="56.7" x2="61.7" y1="303.3" y2="303.3" stroke="#000" stroke-width="1.25"/>
<text transform="translate(54.8,306.9) scale(0.915,1)" text-anchor="end" font-family="Liberation Sans, Arial, sans-serif" font-weight="bold" font-size="11.0" stroke="#000" stroke-width="0.2">15</text>
<line x1="56.7" x2="61.7" y1="266.6" y2="266.6" stroke="#000" stroke-width="1.25"/>
<text transform="translate(54.8,270.2) scale(0.915,1)" text-anchor="end" font-family="Liberation Sans, Arial, sans-serif" font-weight="bold" font-size="11.0" stroke="#000" stroke-width="0.2">20</text>
<line x1="56.7" x2="61.7" y1="229.9" y2="229.9" stroke="#000" stroke-width="1.25"/>
<text transform="translate(54.8,233.5) scale(0.915,1)" text-anchor="end" font-family="Liberation Sans, Arial, sans-serif" font-weight="bold" font-size="11.0" stroke="#000" stroke-width="0.2">25</text>
<line x1="58.9" x2="61.7" y1="395.0" y2="395.0" stroke="#000" stroke-width="1.2"/>
<line x1="58.9" x2="61.7" y1="358.3" y2="358.3" stroke="#000" stroke-width="1.2"/>
<line x1="58.9" x2="61.7" y1="321.6" y2="321.6" stroke="#000" stroke-width="1.2"/>
<line x1="58.9" x2="61.7" y1="284.9" y2="284.9" stroke="#000" stroke-width="1.2"/>
<line x1="58.9" x2="61.7" y1="248.2" y2="248.2" stroke="#000" stroke-width="1.2"/>
<line x1="61.7" x2="61.7" y1="413.4" y2="417.2" stroke="#000" stroke-width="1.25"/>
<text transform="translate(63.7,426.2) scale(0.92,1)" text-anchor="middle" font-family="Liberation Sans, Arial, sans-serif" font-weight="bold" font-size="10.0" stroke="#000" stroke-width="0.2">20</text>
<line x1="135.5" x2="135.5" y1="413.4" y2="417.2" stroke="#000" stroke-width="1.25"/>
<text transform="translate(135.3,426.2) scale(0.92,1)" text-anchor="middle" font-family="Liberation Sans, Arial, sans-serif" font-weight="bold" font-size="10.0" stroke="#000" stroke-width="0.2">-10</text>
<line x1="209.3" x2="209.3" y1="413.4" y2="417.2" stroke="#000" stroke-width="1.25"/>
<text transform="translate(209.1,426.2) scale(0.92,1)" text-anchor="middle" font-family="Liberation Sans, Arial, sans-serif" font-weight="bold" font-size="10.0" stroke="#000" stroke-width="0.2">0</text>
<line x1="283.1" x2="283.1" y1="413.4" y2="417.2" stroke="#000" stroke-width="1.25"/>
<text transform="translate(282.9,426.2) scale(0.92,1)" text-anchor="middle" font-family="Liberation Sans, Arial, sans-serif" font-weight="bold" font-size="10.0" stroke="#000" stroke-width="0.2">10</text>
<line x1="98.6" x2="98.6" y1="413.4" y2="416.0" stroke="#000" stroke-width="1.1"/>
<line x1="172.4" x2="172.4" y1="413.4" y2="416.0" stroke="#000" stroke-width="1.1"/>
<line x1="246.2" x2="246.2" y1="413.4" y2="416.0" stroke="#000" stroke-width="1.1"/>
<text x="146.9" y="438.8" font-family="Liberation Sans, Arial, sans-serif" font-weight="bold" font-size="11.6">q<tspan dy="3.6" font-size="8.8">xy</tspan><tspan dy="-3.6"> (nm</tspan><tspan dy="-5" font-size="8.2">-1</tspan><tspan dy="5">)</tspan></text>
<text transform="translate(35.7,352.5) rotate(-90)" font-family="Liberation Sans, Arial, sans-serif" font-weight="bold" font-size="12.2">q<tspan dy="3.0" font-size="9.2">z</tspan><tspan dy="-3.0"> (nm</tspan><tspan dy="-5.8" font-size="8.4">-1</tspan><tspan dy="5.8">)</tspan></text>
<g clip-path="url(#cp4)">
<rect x="334.2" y="229.9" width="221.4" height="184.5" fill="#2f2980"/>
<circle cx="481.8" cy="413.4" r="104" fill="none" stroke="url(#hg1)" stroke-width="52" opacity="0.5" filter="url(#b3)"/>
<circle cx="481.8" cy="413.4" r="123" fill="none" stroke="#4a60cc" stroke-width="11" opacity="0.15" filter="url(#b2_5)"/>
<circle cx="481.8" cy="413.4" r="101" fill="none" stroke="#4a60cc" stroke-width="8" opacity="0.15" filter="url(#b2_5)"/>
<circle cx="481.8" cy="413.4" r="85" fill="none" stroke="#4a60cc" stroke-width="9" opacity="0.15" filter="url(#b2_5)"/>
<ellipse cx="481.8" cy="297.4" rx="88" ry="30" fill="#4068d4" opacity="0.42" filter="url(#b10)"/>
<circle cx="481.8" cy="413.4" r="124.5" fill="none" stroke="url(#wg1)" stroke-width="17" opacity="0.5" filter="url(#b3)"/>
<g filter="url(#grain)">
<path d="M436.76,315.80 A242.56,242.56 0 0 1 526.64,315.80 A842.20,842.20 0 0 0 436.76,315.80Z" fill="#6cc8ee" opacity="0.5" filter="url(#b1_4)"/>
<path d="M389.00,315.00 A104.73,104.73 0 0 1 574.40,315.00 A756.66,756.66 0 0 1 389.00,315.00Z" fill="#3f63d6" opacity="0.38" filter="url(#b5)"/>
<path d="M401.54,310.00 A93.35,93.35 0 0 1 561.86,310.00 A766.96,766.96 0 0 1 401.54,310.00Z" fill="#4a8fe8" opacity="0.8" filter="url(#b3_2)"/>
<path d="M409.21,307.20 A85.91,85.91 0 0 1 554.19,307.20 A849.05,849.05 0 0 1 409.21,307.20Z" fill="#62d6ee" opacity="1" filter="url(#b2_0)"/>
<path d="M422.12,301.26 A75.55,75.55 0 0 1 539.24,301.26 A953.51,953.51 0 0 1 422.12,301.26Z" fill="#a6ee8c" opacity="1" filter="url(#b1_5)"/>
<path d="M428.87,298.10 A71.10,71.10 0 0 1 531.13,298.10 A1090.10,1090.10 0 0 1 428.87,298.10Z" fill="#f4e833" opacity="1" filter="url(#b1_2)"/>
<path d="M439.60,295.31 A60.46,60.46 0 0 1 521.08,295.31 A833.61,833.61 0 0 1 439.60,295.31Z" fill="#f3901f" opacity="1.0" filter="url(#b1_0)"/>
<path d="M444.65,294.00 A55.92,55.92 0 0 1 516.35,294.00 A714.26,714.26 0 0 1 444.65,294.00Z" fill="#d62a1d" opacity="1.0" filter="url(#b0_9)"/>
<path d="M462.40,291.40 A35.61,35.61 0 0 1 505.60,291.40 A333.61,333.61 0 0 1 462.40,291.40Z" fill="#9c1f18" opacity="1" filter="url(#b0_9)"/>
</g>
<path d="M453.40,414.40 L453.40,410.42 C453.40,394.92 465.33,383.60 478.96,383.60 L481.80,385.20 L484.64,383.60 C498.27,383.60 510.20,394.92 510.20,410.42 L510.20,414.40Z" fill="#4a8fe8" opacity="0.9" filter="url(#b1_2)"/>
<path d="M454.50,414.40 L454.50,410.53 C454.50,395.61 465.97,384.70 479.07,384.70 L481.80,386.30 L484.53,384.70 C497.63,384.70 509.10,395.61 509.10,410.53 L509.10,414.40Z" fill="#62d6ee" filter="url(#b0_5)"/>
<path d="M455.20,414.40 L455.20,410.60 C455.20,396.04 466.37,385.40 479.14,385.40 L481.80,387.00 L484.46,385.40 C497.23,385.40 508.40,396.04 508.40,410.60 L508.40,414.40Z" fill="#f4e833" filter="url(#b0_35)"/>
<path d="M456.00,414.40 L456.00,410.68 C456.00,396.54 466.84,386.20 479.22,386.20 L481.80,387.80 L484.38,386.20 C496.76,386.20 507.60,396.54 507.60,410.68 L507.60,414.40Z" fill="#9a2019"/>
<path d="M463.50,414.40 L463.50,411.78 C463.50,402.71 470.82,397.20 478.87,397.20 L481.80,398.50 L484.73,397.20 C492.78,397.20 500.10,402.71 500.10,411.78 L500.10,414.40Z" fill="#f4e833" stroke="#f4e833" stroke-width="2.0" filter="url(#b0_4)"/>
<path d="M463.50,414.40 L463.50,411.78 C463.50,402.71 470.82,397.20 478.87,397.20 L481.80,398.50 L484.73,397.20 C492.78,397.20 500.10,402.71 500.10,411.78 L500.10,414.40Z" fill="#62d6ee" stroke="#62d6ee" stroke-width="0.7" filter="url(#b0_35)"/>
<path d="M463.50,414.40 L463.50,411.78 C463.50,402.71 470.82,397.20 478.87,397.20 L481.80,398.50 L484.73,397.20 C492.78,397.20 500.10,402.71 500.10,411.78 L500.10,414.40Z" fill="#2f2980"/>
<path d="M481.80,393.80 C479.10,397.80 479.10,401.80 479.10,406.80 L484.50,406.80 C484.50,401.80 484.50,397.80 481.80,393.80Z" fill="#3a369e" stroke="#cfe6f2" stroke-width="0.7" filter="url(#b0_3)"/>
<rect x="480.60" y="388.20" width="2.4" height="3.2" fill="#f3901f" filter="url(#b0_5)"/>
<ellipse cx="459.50" cy="402.90" rx="1.5" ry="5.2" transform="rotate(-14 459.50 402.90)" fill="#f0a024" opacity="0.85" filter="url(#b0_9)"/>
<ellipse cx="457.60" cy="408.40" rx="1.1" ry="4.5" fill="#f4e833" opacity="0.8" filter="url(#b0_7)"/>
<ellipse cx="504.10" cy="402.90" rx="1.5" ry="5.2" transform="rotate(14 504.10 402.90)" fill="#f0a024" opacity="0.85" filter="url(#b0_9)"/>
<ellipse cx="506.00" cy="408.40" rx="1.1" ry="4.5" fill="#f4e833" opacity="0.8" filter="url(#b0_7)"/>
<rect x="535.6" y="411.8" width="18" height="1.2" fill="#4a8fe8" opacity="0.35" filter="url(#b0_5)"/>
</g>
<text x="381.4" y="252.5" textLength="128.5" lengthAdjust="spacingAndGlyphs" xml:space="preserve" font-family="Liberation Sans, Arial, sans-serif" font-weight="bold" font-size="15.4" fill="#fff">Ternary (282 nm)</text>
<path d="M333.5,229.6 V414.1 H556.1" fill="none" stroke="#03021a" stroke-width="1.4"/>
<line x1="329.2" x2="334.2" y1="413.4" y2="413.4" stroke="#000" stroke-width="1.25"/>
<text transform="translate(327.3,417.0) scale(0.915,1)" text-anchor="end" font-family="Liberation Sans, Arial, sans-serif" font-weight="bold" font-size="11.0" stroke="#000" stroke-width="0.2">0</text>
<line x1="329.2" x2="334.2" y1="376.7" y2="376.7" stroke="#000" stroke-width="1.25"/>
<text transform="translate(327.3,380.3) scale(0.915,1)" text-anchor="end" font-family="Liberation Sans, Arial, sans-serif" font-weight="bold" font-size="11.0" stroke="#000" stroke-width="0.2">5</text>
<line x1="329.2" x2="334.2" y1="340.0" y2="340.0" stroke="#000" stroke-width="1.25"/>
<text transform="translate(327.3,343.6) scale(0.915,1)" text-anchor="end" font-family="Liberation Sans, Arial, sans-serif" font-weight="bold" font-size="11.0" stroke="#000" stroke-width="0.2">10</text>
<line x1="329.2" x2="334.2" y1="303.3" y2="303.3" stroke="#000" stroke-width="1.25"/>
<text transform="translate(327.3,306.9) scale(0.915,1)" text-anchor="end" font-family="Liberation Sans, Arial, sans-serif" font-weight="bold" font-size="11.0" stroke="#000" stroke-width="0.2">15</text>
<line x1="329.2" x2="334.2" y1="266.6" y2="266.6" stroke="#000" stroke-width="1.25"/>
<text transform="translate(327.3,270.2) scale(0.915,1)" text-anchor="end" font-family="Liberation Sans, Arial, sans-serif" font-weight="bold" font-size="11.0" stroke="#000" stroke-width="0.2">20</text>
<line x1="329.2" x2="334.2" y1="229.9" y2="229.9" stroke="#000" stroke-width="1.25"/>
<text transform="translate(327.3,233.5) scale(0.915,1)" text-anchor="end" font-family="Liberation Sans, Arial, sans-serif" font-weight="bold" font-size="11.0" stroke="#000" stroke-width="0.2">25</text>
<line x1="331.4" x2="334.2" y1="395.0" y2="395.0" stroke="#000" stroke-width="1.2"/>
<line x1="331.4" x2="334.2" y1="358.3" y2="358.3" stroke="#000" stroke-width="1.2"/>
<line x1="331.4" x2="334.2" y1="321.6" y2="321.6" stroke="#000" stroke-width="1.2"/>
<line x1="331.4" x2="334.2" y1="284.9" y2="284.9" stroke="#000" stroke-width="1.2"/>
<line x1="331.4" x2="334.2" y1="248.2" y2="248.2" stroke="#000" stroke-width="1.2"/>
<line x1="334.2" x2="334.2" y1="413.4" y2="417.2" stroke="#000" stroke-width="1.25"/>
<text transform="translate(336.2,426.2) scale(0.92,1)" text-anchor="middle" font-family="Liberation Sans, Arial, sans-serif" font-weight="bold" font-size="10.0" stroke="#000" stroke-width="0.2">20</text>
<line x1="408.0" x2="408.0" y1="413.4" y2="417.2" stroke="#000" stroke-width="1.25"/>
<text transform="translate(407.8,426.2) scale(0.92,1)" text-anchor="middle" font-family="Liberation Sans, Arial, sans-serif" font-weight="bold" font-size="10.0" stroke="#000" stroke-width="0.2">-10</text>
<line x1="481.8" x2="481.8" y1="413.4" y2="417.2" stroke="#000" stroke-width="1.25"/>
<text transform="translate(481.6,426.2) scale(0.92,1)" text-anchor="middle" font-family="Liberation Sans, Arial, sans-serif" font-weight="bold" font-size="10.0" stroke="#000" stroke-width="0.2">0</text>
<line x1="555.6" x2="555.6" y1="413.4" y2="417.2" stroke="#000" stroke-width="1.25"/>
<text transform="translate(555.4,426.2) scale(0.92,1)" text-anchor="middle" font-family="Liberation Sans, Arial, sans-serif" font-weight="bold" font-size="10.0" stroke="#000" stroke-width="0.2">10</text>
<line x1="371.1" x2="371.1" y1="413.4" y2="416.0" stroke="#000" stroke-width="1.1"/>
<line x1="444.9" x2="444.9" y1="413.4" y2="416.0" stroke="#000" stroke-width="1.1"/>
<line x1="518.7" x2="518.7" y1="413.4" y2="416.0" stroke="#000" stroke-width="1.1"/>
<text x="419.4" y="438.8" font-family="Liberation Sans, Arial, sans-serif" font-weight="bold" font-size="11.6">q<tspan dy="3.6" font-size="8.8">xy</tspan><tspan dy="-3.6"> (nm</tspan><tspan dy="-5" font-size="8.2">-1</tspan><tspan dy="5">)</tspan></text>
<text transform="translate(308.2,352.5) rotate(-90)" font-family="Liberation Sans, Arial, sans-serif" font-weight="bold" font-size="12.2">q<tspan dy="3.0" font-size="9.2">z</tspan><tspan dy="-3.0"> (nm</tspan><tspan dy="-5.8" font-size="8.4">-1</tspan><tspan dy="5.8">)</tspan></text>
<g clip-path="url(#cp5)">
<rect x="604.3" y="229.9" width="221.4" height="184.5" fill="#2f2980"/>
<circle cx="751.9" cy="413.4" r="100" fill="none" stroke="#3843a8" stroke-width="34" opacity="0.34" filter="url(#b6)"/>
<circle cx="751.9" cy="413.4" r="124.5" fill="none" stroke="url(#hg1)" stroke-width="23" opacity="0.62" filter="url(#b3)"/>
<ellipse cx="751.9" cy="301.4" rx="86" ry="22" fill="#4068d4" opacity="0.42" filter="url(#b9)"/>
<circle cx="751.9" cy="413.4" r="124.5" fill="none" stroke="url(#wg1)" stroke-width="20" opacity="0.9" filter="url(#b3)"/>
<g filter="url(#grain)">
<path d="M649.92,320.00 A121.03,121.03 0 0 1 856.08,320.00 A1399.85,1399.85 0 0 0 649.92,320.00Z" fill="#3f63d6" opacity="0.38" transform="rotate(-1.0 753.0 320.0)" filter="url(#b5)"/>
<path d="M663.88,315.00 A107.87,107.87 0 0 1 842.12,315.00 A752.01,752.01 0 0 0 663.88,315.00Z" fill="#4a8fe8" opacity="0.8" transform="rotate(-1.0 753.0 315.0)" filter="url(#b3_2)"/>
<path d="M672.40,312.20 A99.16,99.16 0 0 1 833.60,312.20 A510.73,510.73 0 0 0 672.40,312.20Z" fill="#62d6ee" opacity="1" transform="rotate(-1.0 753.0 312.2)" filter="url(#b2_0)"/>
<path d="M683.94,304.46 A94.09,94.09 0 0 1 817.13,304.46 A416.38,416.38 0 0 0 683.94,304.46Z" fill="#a6ee8c" opacity="1" transform="rotate(-1.0 750.5 304.5)" filter="url(#b1_5)"/>
<path d="M689.57,300.10 A96.84,96.84 0 0 1 808.23,300.10 A402.14,402.14 0 0 0 689.57,300.10Z" fill="#f4e833" opacity="1" transform="rotate(-1.0 748.9 300.1)" filter="url(#b1_2)"/>
<path d="M695.72,295.61 A108.17,108.17 0 0 1 802.08,295.61 A411.85,411.85 0 0 0 695.72,295.61Z" fill="#f3901f" opacity="1.0" transform="rotate(-1.0 748.9 295.6)" filter="url(#b1_0)"/>
<path d="M698.61,293.50 A120.46,120.46 0 0 1 799.19,293.50 A423.01,423.01 0 0 0 698.61,293.50Z" fill="#d62a1d" opacity="1.0" transform="rotate(-1.0 748.9 293.5)" filter="url(#b0_9)"/>
<path d="M702.5,292.6 A190,190 0 0 1 796.5,289.2" fill="none" stroke="#f3901f" stroke-width="6.6" stroke-linecap="round" opacity="1" filter="url(#b1_0)"/>
<path d="M704.5,292.2 A190,190 0 0 1 794.5,289.0" fill="none" stroke="#d62a1d" stroke-width="4.2" stroke-linecap="round" opacity="1" filter="url(#b0_8)"/>
</g>
<path d="M726.00,414.40 C726.52,401.39 738.43,388.80 747.50,384.80 L751.90,387.70 L756.30,384.80 C765.37,388.80 777.28,401.39 777.80,414.40Z" fill="#4a8fe8" opacity="0.9" filter="url(#b1_2)"/>
<path d="M727.10,414.40 C727.60,401.85 739.00,389.75 747.68,385.90 L751.90,388.80 L756.12,385.90 C764.80,389.75 776.20,401.85 776.70,414.40Z" fill="#62d6ee" filter="url(#b0_5)"/>
<path d="M727.80,414.40 C728.28,402.14 739.37,390.35 747.80,386.60 L751.90,389.50 L756.00,386.60 C764.43,390.35 775.52,402.14 776.00,414.40Z" fill="#f4e833" filter="url(#b0_35)"/>
<path d="M728.60,414.40 C729.07,402.48 739.78,391.04 747.94,387.40 L751.90,390.30 L755.86,387.40 C764.02,391.04 774.73,402.48 775.20,414.40Z" fill="#9a2019"/>
<path d="M733.30,414.40 L733.30,411.92 C733.30,403.63 740.74,398.60 748.92,398.60 L751.90,398.60 L754.88,398.60 C763.06,398.60 770.50,403.63 770.50,411.92 L770.50,414.40Z" fill="#f4e833" stroke="#f4e833" stroke-width="2.0" filter="url(#b0_4)"/>
<path d="M733.30,414.40 L733.30,411.92 C733.30,403.63 740.74,398.60 748.92,398.60 L751.90,398.60 L754.88,398.60 C763.06,398.60 770.50,403.63 770.50,411.92 L770.50,414.40Z" fill="#62d6ee" stroke="#62d6ee" stroke-width="0.7" filter="url(#b0_35)"/>
<path d="M733.30,414.40 L733.30,411.92 C733.30,403.63 740.74,398.60 748.92,398.60 L751.90,398.60 L754.88,398.60 C763.06,398.60 770.50,403.63 770.50,411.92 L770.50,414.40Z" fill="#2f2980"/>
<path d="M751.90,392.40 C749.50,395.40 747.90,400.40 747.90,408.10 L755.90,408.10 C755.90,400.40 754.30,395.40 751.90,392.40Z" fill="#9a2019" stroke="#f4e833" stroke-width="0.6"/>
<path d="M751.90,393.90 L750.20,404.40 L753.60,404.40Z" fill="#34309a" filter="url(#b0_4)"/>
<ellipse cx="751.10" cy="361.40" rx="9.40" ry="4.60" fill="#4a8fe8" filter="url(#b0_8)"/>
<ellipse cx="751.10" cy="362.00" rx="8.30" ry="3.60" fill="#62d6ee" filter="url(#b0_4)"/>
<ellipse cx="751.10" cy="362.00" rx="7.60" ry="3.00" fill="#f4e833" filter="url(#b0_35)"/>
<ellipse cx="751.10" cy="362.00" rx="5.30" ry="1.70" fill="#a8241a"/>
<rect x="805.7" y="411.8" width="18" height="1.2" fill="#4a8fe8" opacity="0.35" filter="url(#b0_5)"/>
</g>
<text x="650.1" y="252.5" textLength="141.6" lengthAdjust="spacingAndGlyphs" xml:space="preserve" font-family="Liberation Sans, Arial, sans-serif" font-weight="bold" font-size="15.4" fill="#fff">PM6:IDIC  (261 nm)</text>
<path d="M603.6,229.6 V414.1 H826.2" fill="none" stroke="#03021a" stroke-width="1.4"/>
<line x1="599.3" x2="604.3" y1="413.4" y2="413.4" stroke="#000" stroke-width="1.25"/>
<text transform="translate(597.4,417.0) scale(0.915,1)" text-anchor="end" font-family="Liberation Sans, Arial, sans-serif" font-weight="bold" font-size="11.0" stroke="#000" stroke-width="0.2">0</text>
<line x1="599.3" x2="604.3" y1="376.7" y2="376.7" stroke="#000" stroke-width="1.25"/>
<text transform="translate(597.4,380.3) scale(0.915,1)" text-anchor="end" font-family="Liberation Sans, Arial, sans-serif" font-weight="bold" font-size="11.0" stroke="#000" stroke-width="0.2">5</text>
<line x1="599.3" x2="604.3" y1="340.0" y2="340.0" stroke="#000" stroke-width="1.25"/>
<text transform="translate(597.4,343.6) scale(0.915,1)" text-anchor="end" font-family="Liberation Sans, Arial, sans-serif" font-weight="bold" font-size="11.0" stroke="#000" stroke-width="0.2">10</text>
<line x1="599.3" x2="604.3" y1="303.3" y2="303.3" stroke="#000" stroke-width="1.25"/>
<text transform="translate(597.4,306.9) scale(0.915,1)" text-anchor="end" font-family="Liberation Sans, Arial, sans-serif" font-weight="bold" font-size="11.0" stroke="#000" stroke-width="0.2">15</text>
<line x1="599.3" x2="604.3" y1="266.6" y2="266.6" stroke="#000" stroke-width="1.25"/>
<text transform="translate(597.4,270.2) scale(0.915,1)" text-anchor="end" font-family="Liberation Sans, Arial, sans-serif" font-weight="bold" font-size="11.0" stroke="#000" stroke-width="0.2">20</text>
<line x1="599.3" x2="604.3" y1="229.9" y2="229.9" stroke="#000" stroke-width="1.25"/>
<text transform="translate(597.4,233.5) scale(0.915,1)" text-anchor="end" font-family="Liberation Sans, Arial, sans-serif" font-weight="bold" font-size="11.0" stroke="#000" stroke-width="0.2">25</text>
<line x1="601.5" x2="604.3" y1="395.0" y2="395.0" stroke="#000" stroke-width="1.2"/>
<line x1="601.5" x2="604.3" y1="358.3" y2="358.3" stroke="#000" stroke-width="1.2"/>
<line x1="601.5" x2="604.3" y1="321.6" y2="321.6" stroke="#000" stroke-width="1.2"/>
<line x1="601.5" x2="604.3" y1="284.9" y2="284.9" stroke="#000" stroke-width="1.2"/>
<line x1="601.5" x2="604.3" y1="248.2" y2="248.2" stroke="#000" stroke-width="1.2"/>
<line x1="604.3" x2="604.3" y1="413.4" y2="417.2" stroke="#000" stroke-width="1.25"/>
<text transform="translate(606.3,426.2) scale(0.92,1)" text-anchor="middle" font-family="Liberation Sans, Arial, sans-serif" font-weight="bold" font-size="10.0" stroke="#000" stroke-width="0.2">20</text>
<line x1="678.1" x2="678.1" y1="413.4" y2="417.2" stroke="#000" stroke-width="1.25"/>
<text transform="translate(677.9,426.2) scale(0.92,1)" text-anchor="middle" font-family="Liberation Sans, Arial, sans-serif" font-weight="bold" font-size="10.0" stroke="#000" stroke-width="0.2">-10</text>
<line x1="751.9" x2="751.9" y1="413.4" y2="417.2" stroke="#000" stroke-width="1.25"/>
<text transform="translate(751.7,426.2) scale(0.92,1)" text-anchor="middle" font-family="Liberation Sans, Arial, sans-serif" font-weight="bold" font-size="10.0" stroke="#000" stroke-width="0.2">0</text>
<line x1="825.7" x2="825.7" y1="413.4" y2="417.2" stroke="#000" stroke-width="1.25"/>
<text transform="translate(825.5,426.2) scale(0.92,1)" text-anchor="middle" font-family="Liberation Sans, Arial, sans-serif" font-weight="bold" font-size="10.0" stroke="#000" stroke-width="0.2">10</text>
<line x1="641.2" x2="641.2" y1="413.4" y2="416.0" stroke="#000" stroke-width="1.1"/>
<line x1="715.0" x2="715.0" y1="413.4" y2="416.0" stroke="#000" stroke-width="1.1"/>
<line x1="788.8" x2="788.8" y1="413.4" y2="416.0" stroke="#000" stroke-width="1.1"/>
<text x="689.5" y="438.8" font-family="Liberation Sans, Arial, sans-serif" font-weight="bold" font-size="11.6">q<tspan dy="3.6" font-size="8.8">xy</tspan><tspan dy="-3.6"> (nm</tspan><tspan dy="-5" font-size="8.2">-1</tspan><tspan dy="5">)</tspan></text>
<text transform="translate(578.3,352.5) rotate(-90)" font-family="Liberation Sans, Arial, sans-serif" font-weight="bold" font-size="12.2">q<tspan dy="3.0" font-size="9.2">z</tspan><tspan dy="-3.0"> (nm</tspan><tspan dy="-5.8" font-size="8.4">-1</tspan><tspan dy="5.8">)</tspan></text>
<text transform="translate(3.6,25.2) scale(1,1.0)" font-family="Liberation Sans, Arial, sans-serif" font-weight="bold" font-size="27.9">(a)</text>
<text transform="translate(3.6,245.1) scale(1,1.0)" font-family="Liberation Sans, Arial, sans-serif" font-weight="bold" font-size="27.9">(b)</text>
<text transform="translate(3.6,467.2) scale(1,1.0)" font-family="Liberation Sans, Arial, sans-serif" font-weight="bold" font-size="27.9">(c)</text>
<text transform="translate(440.8,467.3) scale(1,1.0)" font-family="Liberation Sans, Arial, sans-serif" font-weight="bold" font-size="27.9">(d)</text>
<clipPath id="clc"><rect x="88.6" y="454.6" width="311.2" height="250.6"/></clipPath>
<g clip-path="url(#clc)">
<polyline points="88.8,551.1 89.7,550.5 91.1,549.6 92.6,548.5 94.2,547.4 95.6,546.3 96.9,545.3 98.1,544.4 99.2,543.4 100.3,542.5 101.4,541.5 102.4,540.7 103.3,539.9 104.3,539.3 105.2,538.5 106.1,537.7 107.1,537.1 108.0,536.4 108.9,535.7 109.9,534.9 110.9,533.9 112.0,532.7 113.1,531.5 114.3,530.0 115.5,528.6 116.6,527.2 117.8,525.8 118.9,524.6 120.1,523.2 121.2,521.9 122.4,520.6 123.5,519.2 124.7,517.8 125.8,516.5 126.9,515.1 128.1,513.8 129.2,512.8 130.4,511.7 131.5,510.6 132.7,509.7 133.8,508.7 135.0,507.8 136.1,507.0 137.3,506.2 138.4,505.6 139.6,504.9 140.7,504.3 141.9,503.8 143.1,503.4 144.3,502.9 145.3,502.5 146.2,502.3 146.9,502.3 147.7,502.2 148.4,502.3 149.1,502.4 149.9,502.7 150.6,503.1 151.4,503.7 152.2,504.2 152.9,504.8 153.7,505.6 154.4,506.5 155.2,507.4 156.0,508.2 156.7,509.1 157.5,509.9 158.3,510.8 159.0,511.8 159.8,512.5 160.6,513.3 161.3,513.9 162.0,514.4 162.8,514.9 163.5,515.3 164.4,515.8 165.3,516.1 166.2,516.5 167.2,516.8 168.2,517.2 169.1,517.7 170.1,518.4 171.1,519.0 172.0,519.9 173.0,520.6 173.9,521.5 174.9,522.5 175.8,523.5 176.8,524.5 177.7,525.6 178.7,526.2 179.7,526.7 180.6,527.1 181.6,527.3 182.6,527.4 183.5,527.6 184.3,527.7 185.1,527.7 185.8,527.7 186.5,527.8 187.3,528.2 188.0,528.9 188.8,529.8 189.6,530.8 190.3,531.9 191.1,533.0 191.8,534.0 192.5,535.3 193.3,536.6 194.0,537.7 194.9,538.7 195.9,539.5 197.1,540.3 198.3,540.9 199.5,541.4 200.6,542.0 201.8,542.4 202.9,542.6 204.0,542.8 205.2,543.0 206.4,543.4 207.7,544.2 209.0,544.7 210.3,545.5 211.7,546.0 213.1,546.4 214.4,546.3 215.8,545.9 217.1,545.4 218.5,545.1 219.7,544.3 221.0,543.7 222.1,543.1 223.3,542.4 224.4,541.5 225.5,540.5 226.5,539.8 227.5,538.6 228.4,537.5 229.4,536.6 230.2,535.8 231.1,534.9 231.8,534.2 232.5,533.6 233.3,533.2 234.1,532.8 235.0,533.1 235.9,533.8 236.9,534.5 237.9,535.2 238.8,535.9 239.7,536.5 240.6,537.0 241.5,537.6 242.5,538.3 243.6,539.4 245.0,540.2 246.5,541.3 248.2,542.0 249.9,543.1 251.5,543.8 253.0,544.5 254.5,544.9 256.0,545.4 257.6,545.4 259.1,545.8 260.7,545.9 262.2,546.0 263.8,545.9 265.3,545.7 266.7,545.5 268.0,545.0 269.2,544.1 270.3,543.5 271.3,542.7 272.5,542.1 273.6,541.3 274.7,540.8 275.8,540.2 276.9,539.6 278.2,539.3 279.6,539.1 281.2,539.3 282.8,539.5 284.4,539.5 285.8,539.7 287.1,539.5 288.3,539.0 289.5,538.5 290.6,537.9 291.6,537.8 292.4,537.7 293.2,537.7 293.9,538.0 294.6,538.1 295.4,538.8 296.2,539.3 297.1,540.5 298.1,541.6 299.1,542.5 300.1,543.5 301.3,544.1 302.5,544.6 303.9,545.0 305.3,545.1 306.8,545.2 308.6,545.4 310.6,545.5 312.7,545.3 314.7,545.1 316.4,545.1 317.8,544.7 319.0,544.1 320.1,543.7 321.1,543.0 322.1,542.6 323.0,541.9 323.7,541.3 324.3,540.9 325.1,540.5 325.9,540.1 326.9,539.9 328.0,540.1 329.1,540.2 330.3,540.4 331.6,540.6 333.1,540.7 334.6,540.5 336.1,540.3 337.7,540.3 339.3,540.0 340.8,539.9 342.4,540.0 344.0,540.0 345.5,540.0 346.9,540.0 348.2,539.8 349.4,539.4 350.5,539.0 351.6,538.9 352.6,538.8 353.6,538.8 354.6,539.0 355.5,539.4 356.4,540.2 357.4,540.4 358.5,541.4 359.6,542.2 360.7,543.0 361.9,543.9 363.2,544.3 364.4,544.6 365.7,544.9 367.0,544.9 368.4,545.1 369.8,544.9 371.3,544.7 372.9,544.3 374.5,544.2 376.0,543.8 377.5,543.9 378.7,544.1 379.8,544.5 380.9,545.1 382.0,545.6 383.2,546.2 384.6,547.2 386.1,548.2 387.6,549.4 389.2,550.8 390.8,552.1 392.7,553.3 394.7,554.9 396.7,556.4 398.4,557.9 399.6,558.7" fill="none" stroke="#000000" stroke-width="1.55" stroke-linejoin="round" stroke-linecap="round"/>
<polyline points="88.8,525.7 90.2,525.2 92.3,524.3 94.7,523.5 97.2,522.5 99.5,521.5 101.4,520.7 103.4,519.7 105.2,518.7 107.1,517.7 109.0,516.7 110.9,515.7 112.9,514.4 114.9,513.3 116.8,512.2 118.5,511.0 120.2,510.0 121.7,509.0 123.2,508.0 124.7,507.1 126.2,506.3 127.7,505.4 129.3,504.5 130.9,503.7 132.4,502.9 133.8,502.5 135.1,502.1 136.3,501.8 137.4,501.6 138.4,501.6 139.6,501.4 140.7,501.5 141.8,501.5 143.0,501.5 144.1,501.6 145.3,501.8 146.4,502.1 147.6,502.5 148.7,502.9 149.9,503.1 151.0,503.4 152.2,503.3 153.3,503.3 154.5,503.0 155.7,502.8 156.7,502.6 157.8,502.4 158.8,502.2 159.7,502.0 160.6,501.9 161.5,501.9 162.3,501.8 163.1,501.9 163.8,501.9 164.5,502.2 165.3,502.5 166.2,503.3 167.2,504.3 168.1,505.4 169.1,506.8 170.1,508.2 171.1,509.7 172.0,511.4 173.0,513.2 173.9,514.9 174.9,516.7 175.8,518.5 176.7,520.3 177.7,521.9 178.6,523.7 179.6,525.4 180.7,526.9 181.8,528.5 183.0,530.0 184.2,531.6 185.4,533.0 186.7,534.3 188.0,535.5 189.3,536.8 190.7,537.8 192.1,538.7 193.4,539.5 194.7,540.1 196.0,540.6 197.3,541.1 198.7,541.5 200.2,542.0 201.7,542.3 203.3,542.6 204.8,542.9 206.4,543.0 207.9,543.4 209.4,543.6 211.0,544.0 212.5,544.4 214.0,544.5 215.6,544.4 217.2,544.2 218.7,544.0 220.2,543.8 221.7,543.6 222.9,542.9 224.1,542.5 225.2,541.6 226.3,541.0 227.4,540.5 228.4,540.2 229.3,539.7 230.2,539.4 231.1,539.3 232.2,539.1 233.3,539.5 234.6,539.7 235.9,540.4 237.3,540.9 238.8,541.5 240.4,542.3 242.2,543.1 244.0,544.0 245.8,544.8 247.6,545.4 249.5,545.6 251.3,545.7 253.2,545.8 255.1,545.8 257.2,545.8 259.4,546.0 261.7,546.1 264.1,546.3 266.4,546.2 268.6,546.4 270.6,546.3 272.5,546.1 274.3,545.7 276.2,545.5 278.2,545.5 280.4,545.2 282.6,545.5 285.0,545.5 287.3,545.3 289.6,545.3 291.9,545.4 294.2,545.1 296.5,544.9 298.8,545.0 301.1,544.8 303.4,544.9 305.8,544.8 308.1,545.0 310.4,545.1 312.6,544.8 314.6,544.7 316.5,544.6 318.4,544.3 320.2,544.0 322.1,543.3 324.0,543.0 325.9,542.6 327.8,542.0 329.7,541.6 331.6,541.1 333.6,540.7 335.6,540.6 337.6,540.4 339.5,540.3 341.2,540.0 342.6,539.7 343.8,539.1 344.9,538.7 345.9,538.2 346.9,537.8 347.9,537.2 348.9,536.4 349.8,535.4 350.8,534.7 351.7,534.4 352.6,533.9 353.6,533.8 354.5,533.6 355.5,533.6 356.5,533.5 357.6,533.6 358.7,533.8 359.9,533.9 361.0,534.2 362.2,534.0 363.3,533.3 364.5,532.8 365.6,532.0 366.8,531.0 367.9,530.0 369.1,528.9 370.3,527.8 371.4,526.4 372.6,525.5 373.7,524.5 374.7,523.6 375.7,523.0 376.6,522.3 377.5,521.8 378.4,521.5 379.2,521.3 380.0,521.4 380.7,521.4 381.4,521.5 382.2,522.2 383.1,522.9 384.0,523.8 385.0,524.9 386.0,525.9 387.0,527.4 388.1,528.7 389.2,530.1 390.3,531.6 391.5,533.3 392.7,534.8 394.2,536.9 395.7,538.9 397.3,541.1 398.7,543.1 399.6,544.3" fill="none" stroke="#e8141c" stroke-width="1.55" stroke-linejoin="round" stroke-linecap="round"/>
<polyline points="88.8,610.4 89.7,610.0 91.1,609.4 92.6,608.8 94.2,608.2 95.6,607.5 96.9,606.9 98.1,606.4 99.2,605.8 100.3,605.2 101.4,604.6 102.4,604.1 103.4,603.4 104.4,602.7 105.3,602.2 106.1,601.8 106.8,601.6 107.3,601.9 107.7,602.1 108.3,602.1 109.0,601.8 110.0,601.0 111.1,599.9 112.3,598.7 113.5,597.3 114.7,596.0 115.9,594.8 117.0,593.4 118.2,592.0 119.3,590.7 120.5,589.4 121.6,588.2 122.7,587.0 123.9,585.9 125.0,584.7 126.2,583.7 127.3,582.5 128.5,581.2 129.6,580.1 130.8,578.9 131.9,577.9 133.1,576.9 134.2,576.0 135.4,575.2 136.5,574.3 137.6,573.8 138.8,573.1 139.9,572.7 141.1,572.3 142.2,572.0 143.4,571.8 144.5,571.7 145.7,571.6 146.9,571.5 148.0,571.7 149.1,571.8 150.1,572.0 151.1,572.4 152.0,572.8 152.9,573.4 153.9,574.1 154.8,574.9 155.8,575.9 156.7,576.9 157.7,577.8 158.6,578.9 159.6,579.9 160.6,580.7 161.5,581.8 162.5,582.6 163.4,583.3 164.4,583.8 165.3,583.9 166.3,584.1 167.2,584.3 168.2,584.6 169.1,585.0 170.1,585.6 171.1,586.1 172.0,586.8 173.0,587.4 173.9,588.3 174.8,589.3 175.8,590.4 176.7,591.3 177.7,592.2 178.9,592.8 180.1,593.4 181.3,593.9 182.4,594.3 183.5,594.7 184.3,595.0 185.1,595.2 185.8,595.4 186.5,595.6 187.3,596.1 188.2,596.9 189.1,597.8 190.1,598.8 191.1,599.8 192.1,600.9 193.0,601.7 193.9,602.5 194.9,603.2 195.8,603.9 196.8,604.7 197.9,605.3 199.0,605.9 200.1,606.5 201.3,607.1 202.6,607.5 204.0,607.9 205.5,608.2 207.0,608.6 208.6,608.8 210.2,608.7 211.8,608.9 213.3,609.2 214.9,609.4 216.4,609.6 217.8,609.3 219.1,609.1 220.3,608.4 221.4,607.8 222.4,607.3 223.6,606.6 224.7,605.9 225.9,604.9 227.1,604.1 228.2,603.3 229.3,602.7 230.3,602.3 231.3,601.9 232.2,601.3 233.1,601.2 234.1,601.5 235.0,601.8 235.8,602.5 236.6,603.1 237.6,603.9 238.8,604.6 240.4,605.3 242.1,605.8 244.0,606.5 245.9,607.1 247.6,607.5 249.2,608.1 250.7,608.7 252.1,609.3 253.6,609.6 255.3,609.9 257.1,610.1 259.0,610.4 261.0,610.2 263.0,610.1 264.8,610.0 266.4,609.6 267.9,609.2 269.4,608.4 270.8,608.0 272.5,607.4 274.2,607.1 276.1,607.0 278.1,606.7 280.1,606.6 282.0,606.6 284.0,606.5 286.0,606.3 288.0,606.2 289.9,606.2 291.6,606.2 293.0,606.1 294.2,605.9 295.2,606.0 296.3,606.0 297.3,606.3 298.3,606.8 299.2,607.4 300.1,608.0 301.0,608.9 302.1,609.4 303.2,609.9 304.5,610.4 305.8,610.9 307.2,611.2 308.7,611.2 310.5,611.3 312.5,611.3 314.6,611.2 316.6,611.0 318.3,610.7 319.7,610.3 320.8,610.0 321.9,609.7 322.9,609.2 324.0,609.0 325.1,608.6 326.1,608.3 327.2,608.4 328.3,608.3 329.7,608.0 331.4,607.8 333.4,607.9 335.4,607.8 337.4,607.7 339.3,607.7 341.0,607.4 342.6,607.2 344.1,606.7 345.5,606.7 346.9,606.6 348.2,606.3 349.3,606.2 350.4,606.4 351.5,606.5 352.6,606.4 353.8,606.9 354.9,607.2 356.1,607.9 357.2,608.4 358.4,608.8 359.5,609.3 360.6,610.0 361.7,610.5 362.8,611.1 364.1,611.3 365.5,611.4 367.1,611.7 368.7,611.5 370.2,611.4 371.7,611.3 373.1,611.3 374.5,611.1 375.8,610.9 377.1,610.7 378.4,610.9 379.7,611.1 381.1,611.5 382.4,612.0 383.7,612.6 385.1,613.4 386.6,614.3 388.1,615.3 389.7,616.4 391.3,617.7 392.7,619.1 394.3,620.4 395.9,622.0 397.4,623.5 398.7,625.1 399.6,626.2" fill="none" stroke="#000000" stroke-width="1.55" stroke-linejoin="round" stroke-linecap="round"/>
<polyline points="88.8,591.6 89.9,591.1 91.6,590.3 93.6,589.4 95.6,588.4 97.5,587.5 99.4,586.4 101.3,585.3 103.2,584.1 105.2,583.0 107.1,581.8 109.0,580.4 110.9,579.0 112.8,577.7 114.7,576.3 116.6,575.1 118.6,573.7 120.5,572.5 122.5,571.3 124.4,570.3 126.2,569.3 127.9,568.5 129.5,567.7 131.0,567.0 132.4,566.5 133.8,566.0 135.1,565.7 136.3,565.6 137.4,565.4 138.4,565.5 139.6,565.5 140.7,565.6 141.8,565.8 143.0,566.1 144.1,566.5 145.3,566.8 146.4,567.4 147.6,568.1 148.7,568.7 149.9,569.3 151.0,569.8 152.2,570.3 153.3,570.7 154.4,570.9 155.6,571.1 156.7,571.2 157.9,571.3 159.1,571.3 160.3,571.2 161.4,571.1 162.5,571.2 163.3,571.4 164.1,571.6 164.8,572.0 165.5,572.4 166.3,573.2 167.2,574.1 168.1,575.3 169.1,576.8 170.1,578.3 171.1,579.9 172.0,581.4 172.9,583.2 173.9,585.1 174.8,586.8 175.8,588.4 176.9,589.9 178.1,591.3 179.2,592.6 180.4,594.0 181.6,595.1 182.7,596.2 183.8,597.1 184.9,598.0 186.0,599.0 187.3,599.8 188.7,600.8 190.2,601.7 191.8,602.7 193.4,603.5 194.9,604.3 196.4,604.8 197.9,605.4 199.4,605.8 200.9,606.3 202.6,606.5 204.3,606.9 206.2,607.1 208.2,607.4 210.2,607.5 212.1,607.4 214.1,607.5 216.1,607.1 218.0,606.8 219.9,606.4 221.7,606.1 223.2,605.7 224.6,605.3 225.9,604.6 227.2,604.2 228.3,603.6 229.4,603.3 230.3,603.0 231.2,603.0 232.1,602.8 233.1,602.8 234.1,602.8 235.2,603.4 236.3,604.0 237.5,604.5 238.8,605.0 240.4,605.4 242.1,605.7 243.9,606.4 245.8,606.7 247.6,606.8 249.5,607.2 251.4,607.2 253.3,607.3 255.3,607.4 257.2,607.4 259.1,607.6 260.9,607.8 262.8,608.0 264.7,608.0 266.7,608.0 268.9,608.0 271.2,607.7 273.5,607.6 275.9,607.2 278.2,607.0 280.5,606.7 282.8,606.8 285.1,606.4 287.4,606.4 289.6,606.4 291.9,606.7 294.2,607.0 296.5,607.1 298.8,607.4 301.1,607.6 303.4,607.5 305.8,607.2 308.1,607.1 310.4,606.9 312.6,606.8 314.6,606.9 316.5,606.8 318.4,607.1 320.2,607.0 322.1,606.9 324.0,606.8 325.9,606.6 327.8,606.4 329.7,605.9 331.6,605.5 333.6,605.1 335.6,604.5 337.6,604.1 339.5,603.7 341.2,603.3 342.6,602.7 343.8,602.2 344.9,601.8 345.9,601.1 346.9,600.8 348.0,600.3 348.9,599.9 349.9,599.2 350.8,598.8 351.7,598.5 352.5,598.4 353.2,598.2 354.0,598.0 354.7,597.8 355.5,598.0 356.4,598.4 357.3,598.8 358.3,599.3 359.3,599.7 360.3,599.8 361.4,599.8 362.5,599.5 363.7,598.9 364.9,598.3 366.0,597.5 367.2,596.3 368.4,595.3 369.5,593.9 370.7,592.4 371.7,591.1 372.8,590.0 373.8,588.9 374.7,587.8 375.6,586.6 376.5,586.1 377.3,585.3 378.1,585.0 378.8,584.7 379.5,585.0 380.3,585.1 381.2,585.9 382.0,586.7 382.9,587.7 384.0,589.0 385.1,590.2 386.5,592.0 388.0,593.7 389.6,595.4 391.2,597.2 392.7,598.8 394.3,600.9 395.9,602.7 397.4,604.8 398.7,606.3 399.6,607.5" fill="none" stroke="#e8141c" stroke-width="1.55" stroke-linejoin="round" stroke-linecap="round"/>
<polyline points="88.8,656.3 89.4,655.7 90.3,655.2 91.3,654.5 92.5,653.9 93.7,653.5 95.1,653.4 96.7,653.3 98.3,653.1 99.9,653.0 101.4,653.0 102.6,652.9 103.8,652.8 104.9,652.8 106.0,652.7 107.1,652.3 108.2,651.8 109.4,651.2 110.5,650.4 111.7,649.7 112.8,649.2 114.0,648.6 115.1,648.3 116.3,647.9 117.4,647.7 118.5,647.2 119.7,646.8 120.9,646.2 122.1,645.8 123.2,645.1 124.3,644.5 125.3,643.4 126.3,642.3 127.2,641.0 128.1,639.9 129.1,638.7 130.0,637.5 130.9,636.2 131.8,635.0 132.8,633.9 133.8,633.0 134.9,632.3 136.1,631.6 137.3,631.2 138.5,630.9 139.6,630.7 140.6,630.4 141.5,630.3 142.5,630.2 143.4,630.4 144.3,630.6 145.3,631.1 146.2,632.0 147.2,633.0 148.1,633.9 149.1,634.8 150.0,635.8 151.0,636.6 151.9,637.7 152.9,638.5 153.9,639.5 155.0,640.6 156.1,641.5 157.3,642.5 158.5,643.4 159.6,644.4 160.6,645.2 161.6,646.0 162.5,646.8 163.4,647.5 164.4,648.1 165.3,648.7 166.3,649.5 167.3,650.0 168.3,650.3 169.1,650.6 170.0,650.5 170.7,650.4 171.4,649.9 172.2,649.6 173.0,649.2 173.8,648.6 174.8,647.7 175.7,647.0 176.7,646.2 177.7,645.9 178.8,645.9 180.0,645.9 181.1,646.2 182.3,646.7 183.5,647.2 184.6,647.7 185.8,648.7 186.9,649.5 188.0,650.3 189.2,651.0 190.3,651.7 191.4,652.2 192.5,652.8 193.7,653.7 194.9,654.3 196.3,655.1 197.8,656.2 199.4,657.2 201.0,657.9 202.6,658.6 204.1,659.2 205.6,659.7 207.1,660.1 208.7,660.0 210.2,660.8 211.7,661.0 213.3,661.6 214.8,662.0 216.3,662.9 217.8,663.4 219.4,663.3 221.0,663.8 222.6,663.9 224.1,664.5 225.5,664.2 226.8,664.3 227.9,664.8 229.1,664.6 230.1,664.8 231.2,664.6 232.2,664.1 233.2,663.1 234.1,662.7 235.0,662.2 236.0,661.5 236.9,661.2 237.7,661.2 238.5,661.4 239.5,661.8 240.7,661.8 242.2,662.1 243.9,662.5 245.8,663.2 247.7,663.7 249.5,663.8 251.4,664.1 253.3,664.4 255.2,664.3 257.2,664.1 259.1,664.3 261.0,664.8 262.9,664.9 264.8,664.9 266.7,665.3 268.6,665.1 270.5,665.8 272.5,665.6 274.4,665.7 276.3,665.8 278.2,665.5 280.1,665.7 282.0,665.3 283.9,665.1 285.8,665.2 287.7,664.8 289.6,665.0 291.6,665.6 293.5,665.7 295.4,666.0 297.3,666.4 299.2,666.1 301.1,666.3 303.0,666.1 304.9,665.3 306.8,665.3 308.7,665.3 310.6,665.0 312.6,665.1 314.5,664.7 316.4,664.2 318.3,664.0 320.3,663.6 322.2,662.9 324.1,662.5 325.9,662.1 327.6,661.5 329.1,661.1 330.6,660.9 332.1,660.4 333.6,660.0 335.1,660.0 336.6,659.4 338.1,659.5 339.7,659.1 341.2,659.3 342.7,659.3 344.2,659.7 345.6,660.2 347.2,660.5 348.8,660.8 350.6,660.5 352.5,660.7 354.5,660.5 356.4,660.7 358.4,660.6 360.3,660.3 362.3,660.5 364.2,660.5 366.1,660.3 367.9,660.2 369.6,659.5 371.2,659.1 372.7,658.6 374.2,658.4 375.6,658.1 376.8,657.9 378.0,657.6 379.1,657.8 380.2,657.4 381.3,658.0 382.4,658.0 383.6,658.4 384.7,659.1 385.9,659.3 387.0,659.8 388.1,660.5 389.3,660.9 390.4,661.8 391.5,662.7 392.7,663.5 394.2,664.4 395.7,665.9 397.3,667.0 398.7,668.6 399.6,669.0" fill="none" stroke="#000000" stroke-width="1.55" stroke-linejoin="round" stroke-linecap="round"/>
<polyline points="88.8,650.6 89.5,649.7 90.4,648.4 91.6,646.9 92.7,645.5 93.7,644.3 94.5,643.7 95.2,643.3 95.9,643.0 96.7,642.9 97.5,642.4 98.5,642.0 99.6,641.6 100.8,641.1 102.0,640.3 103.3,639.6 104.7,638.7 106.2,637.4 107.8,636.3 109.4,635.2 110.9,633.8 112.4,632.6 114.0,631.3 115.5,630.1 117.0,628.7 118.5,627.5 120.1,626.5 121.6,625.3 123.1,624.1 124.7,622.9 126.2,621.8 127.7,620.7 129.3,619.5 130.9,618.5 132.4,617.6 133.8,616.7 135.1,615.9 136.3,615.5 137.4,614.9 138.4,614.4 139.6,614.2 140.7,614.0 141.9,613.7 143.1,613.7 144.2,613.8 145.3,613.9 146.3,614.0 147.3,614.4 148.2,614.6 149.1,615.1 150.1,615.8 151.0,616.4 151.9,617.4 152.8,618.2 153.8,619.3 154.8,620.4 155.9,621.9 157.0,623.3 158.2,624.9 159.4,626.5 160.6,628.1 161.7,629.7 162.8,631.3 164.0,633.0 165.1,634.4 166.3,635.9 167.4,637.0 168.6,638.2 169.7,639.3 170.9,640.5 172.0,641.5 173.1,642.5 174.2,643.5 175.3,644.5 176.5,645.5 177.7,646.3 179.1,646.9 180.7,647.3 182.2,647.5 183.8,647.8 185.4,648.1 186.9,648.7 188.4,648.9 190.0,649.3 191.5,649.7 193.0,650.2 194.5,650.5 196.1,651.0 197.6,651.6 199.1,652.2 200.6,653.0 202.2,653.8 203.7,654.9 205.2,655.8 206.8,656.7 208.3,657.7 209.8,658.4 211.3,659.1 212.9,659.9 214.4,660.7 215.9,660.9 217.5,661.4 219.0,661.6 220.5,661.8 222.0,661.6 223.6,662.0 225.1,662.0 226.7,662.4 228.3,662.5 229.8,662.3 231.2,662.3 232.4,662.2 233.4,662.2 234.4,661.7 235.5,661.5 236.9,661.8 238.9,661.8 241.2,662.7 243.6,663.5 245.9,664.1 247.6,664.2 248.9,663.7 249.7,663.3 250.4,662.2 250.9,661.1 251.5,659.9 252.0,657.9 252.5,656.3 252.9,654.4 253.3,652.2 253.7,651.2 254.2,650.3 254.7,649.8 255.2,649.4 255.7,648.9 256.2,649.2 256.8,649.2 257.3,649.8 257.9,650.5 258.5,651.1 259.1,652.3 259.7,653.6 260.2,655.3 260.7,656.9 261.3,658.4 262.0,660.0 262.6,661.1 263.3,662.0 264.0,663.1 264.8,663.6 265.8,664.2 266.9,664.8 268.2,665.3 269.6,665.4 271.0,665.8 272.5,665.9 273.9,665.7 275.4,665.6 276.9,664.9 278.4,664.7 280.1,664.3 281.9,663.7 283.9,663.4 285.9,662.7 287.8,662.4 289.6,662.0 291.3,661.4 292.8,660.9 294.3,660.4 295.8,659.9 297.3,659.9 298.8,660.3 300.3,660.5 301.9,660.7 303.4,661.4 304.9,661.4 306.4,661.7 307.9,661.9 309.4,662.2 310.9,661.9 312.6,662.0 314.3,662.0 316.2,661.7 318.2,661.4 320.2,661.1 322.1,660.5 324.0,660.0 326.0,659.4 328.0,659.0 329.9,658.4 331.6,657.7 333.3,657.6 334.8,656.7 336.3,656.5 337.8,656.5 339.3,656.3 340.8,656.3 342.3,656.8 343.9,656.4 345.4,656.6 346.9,656.6 348.4,656.8 350.0,656.4 351.5,656.1 353.0,656.2 354.6,655.8 356.1,655.3 357.7,654.9 359.2,654.4 360.7,653.7 362.2,653.0 363.6,652.2 365.0,651.3 366.4,650.4 367.7,649.0 368.9,648.1 370.0,647.5 370.9,646.2 371.8,645.6 372.7,644.8 373.7,644.1 374.6,643.7 375.6,643.2 376.5,642.5 377.5,642.6 378.4,642.5 379.4,642.6 380.3,642.7 381.2,643.0 382.2,643.8 383.2,644.4 384.3,645.2 385.4,646.4 386.6,647.8 387.8,649.3 388.9,651.1 390.1,652.6 391.3,654.6 392.4,656.6 393.6,658.6 394.7,660.7 395.8,662.0 396.9,663.8 398.0,665.4 399.0,666.4 399.6,667.1" fill="none" stroke="#e8141c" stroke-width="1.55" stroke-linejoin="round" stroke-linecap="round"/>
</g>
<rect x="88.6" y="454.6" width="311.2" height="250.6" fill="none" stroke="#000" stroke-width="1.7"/>
<line x1="83.4" x2="88.6" y1="690.4" y2="690.4" stroke="#000" stroke-width="1.6"/>
<text transform="translate(80.5,696.1) scale(0.95,1)" text-anchor="end" font-family="Liberation Sans, Arial, sans-serif" font-weight="bold" font-size="15.7">10<tspan dy="-6.8" font-size="10.8">-1</tspan></text>
<line x1="83.4" x2="88.6" y1="640.2" y2="640.2" stroke="#000" stroke-width="1.6"/>
<text transform="translate(80.5,645.9) scale(0.95,1)" text-anchor="end" font-family="Liberation Sans, Arial, sans-serif" font-weight="bold" font-size="15.7">10<tspan dy="-6.8" font-size="10.8">0</tspan></text>
<line x1="83.4" x2="88.6" y1="590.0" y2="590.0" stroke="#000" stroke-width="1.6"/>
<text transform="translate(80.5,595.7) scale(0.95,1)" text-anchor="end" font-family="Liberation Sans, Arial, sans-serif" font-weight="bold" font-size="15.7">10<tspan dy="-6.8" font-size="10.8">1</tspan></text>
<line x1="83.4" x2="88.6" y1="539.8" y2="539.8" stroke="#000" stroke-width="1.6"/>
<text transform="translate(80.5,545.5) scale(0.95,1)" text-anchor="end" font-family="Liberation Sans, Arial, sans-serif" font-weight="bold" font-size="15.7">10<tspan dy="-6.8" font-size="10.8">2</tspan></text>
<line x1="83.4" x2="88.6" y1="489.6" y2="489.6" stroke="#000" stroke-width="1.6"/>
<text transform="translate(80.5,495.3) scale(0.95,1)" text-anchor="end" font-family="Liberation Sans, Arial, sans-serif" font-weight="bold" font-size="15.7">10<tspan dy="-6.8" font-size="10.8">3</tspan></text>
<line x1="85.8" x2="88.6" y1="701.5" y2="701.5" stroke="#000" stroke-width="1.2"/>
<line x1="85.8" x2="88.6" y1="698.2" y2="698.2" stroke="#000" stroke-width="1.2"/>
<line x1="85.8" x2="88.6" y1="695.3" y2="695.3" stroke="#000" stroke-width="1.2"/>
<line x1="85.8" x2="88.6" y1="692.7" y2="692.7" stroke="#000" stroke-width="1.2"/>
<line x1="85.8" x2="88.6" y1="675.3" y2="675.3" stroke="#000" stroke-width="1.2"/>
<line x1="85.8" x2="88.6" y1="666.4" y2="666.4" stroke="#000" stroke-width="1.2"/>
<line x1="85.8" x2="88.6" y1="660.2" y2="660.2" stroke="#000" stroke-width="1.2"/>
<line x1="85.8" x2="88.6" y1="655.3" y2="655.3" stroke="#000" stroke-width="1.2"/>
<line x1="85.8" x2="88.6" y1="651.3" y2="651.3" stroke="#000" stroke-width="1.2"/>
<line x1="85.8" x2="88.6" y1="648.0" y2="648.0" stroke="#000" stroke-width="1.2"/>
<line x1="85.8" x2="88.6" y1="645.1" y2="645.1" stroke="#000" stroke-width="1.2"/>
<line x1="85.8" x2="88.6" y1="642.5" y2="642.5" stroke="#000" stroke-width="1.2"/>
<line x1="85.8" x2="88.6" y1="625.1" y2="625.1" stroke="#000" stroke-width="1.2"/>
<line x1="85.8" x2="88.6" y1="616.2" y2="616.2" stroke="#000" stroke-width="1.2"/>
<line x1="85.8" x2="88.6" y1="610.0" y2="610.0" stroke="#000" stroke-width="1.2"/>
<line x1="85.8" x2="88.6" y1="605.1" y2="605.1" stroke="#000" stroke-width="1.2"/>
<line x1="85.8" x2="88.6" y1="601.1" y2="601.1" stroke="#000" stroke-width="1.2"/>
<line x1="85.8" x2="88.6" y1="597.8" y2="597.8" stroke="#000" stroke-width="1.2"/>
<line x1="85.8" x2="88.6" y1="594.9" y2="594.9" stroke="#000" stroke-width="1.2"/>
<line x1="85.8" x2="88.6" y1="592.3" y2="592.3" stroke="#000" stroke-width="1.2"/>
<line x1="85.8" x2="88.6" y1="574.9" y2="574.9" stroke="#000" stroke-width="1.2"/>
<line x1="85.8" x2="88.6" y1="566.0" y2="566.0" stroke="#000" stroke-width="1.2"/>
<line x1="85.8" x2="88.6" y1="559.8" y2="559.8" stroke="#000" stroke-width="1.2"/>
<line x1="85.8" x2="88.6" y1="554.9" y2="554.9" stroke="#000" stroke-width="1.2"/>
<line x1="85.8" x2="88.6" y1="550.9" y2="550.9" stroke="#000" stroke-width="1.2"/>
<line x1="85.8" x2="88.6" y1="547.6" y2="547.6" stroke="#000" stroke-width="1.2"/>
<line x1="85.8" x2="88.6" y1="544.7" y2="544.7" stroke="#000" stroke-width="1.2"/>
<line x1="85.8" x2="88.6" y1="542.1" y2="542.1" stroke="#000" stroke-width="1.2"/>
<line x1="85.8" x2="88.6" y1="524.7" y2="524.7" stroke="#000" stroke-width="1.2"/>
<line x1="85.8" x2="88.6" y1="515.8" y2="515.8" stroke="#000" stroke-width="1.2"/>
<line x1="85.8" x2="88.6" y1="509.6" y2="509.6" stroke="#000" stroke-width="1.2"/>
<line x1="85.8" x2="88.6" y1="504.7" y2="504.7" stroke="#000" stroke-width="1.2"/>
<line x1="85.8" x2="88.6" y1="500.7" y2="500.7" stroke="#000" stroke-width="1.2"/>
<line x1="85.8" x2="88.6" y1="497.4" y2="497.4" stroke="#000" stroke-width="1.2"/>
<line x1="85.8" x2="88.6" y1="494.5" y2="494.5" stroke="#000" stroke-width="1.2"/>
<line x1="85.8" x2="88.6" y1="491.9" y2="491.9" stroke="#000" stroke-width="1.2"/>
<line x1="85.8" x2="88.6" y1="474.5" y2="474.5" stroke="#000" stroke-width="1.2"/>
<line x1="85.8" x2="88.6" y1="465.6" y2="465.6" stroke="#000" stroke-width="1.2"/>
<line x1="85.8" x2="88.6" y1="459.4" y2="459.4" stroke="#000" stroke-width="1.2"/>
<line x1="85.8" x2="88.6" y1="454.5" y2="454.5" stroke="#000" stroke-width="1.2"/>
<line x1="102.8" x2="102.8" y1="705.2" y2="707.9" stroke="#000" stroke-width="1.2"/>
<line x1="133.0" x2="133.0" y1="705.2" y2="707.9" stroke="#000" stroke-width="1.2"/>
<line x1="157.6" x2="157.6" y1="705.2" y2="707.9" stroke="#000" stroke-width="1.2"/>
<line x1="178.5" x2="178.5" y1="705.2" y2="707.9" stroke="#000" stroke-width="1.2"/>
<line x1="196.5" x2="196.5" y1="705.2" y2="707.9" stroke="#000" stroke-width="1.2"/>
<line x1="212.4" x2="212.4" y1="705.2" y2="710.2" stroke="#000" stroke-width="1.6"/>
<text transform="translate(212.4,726.0) scale(0.9,1)" text-anchor="middle" font-family="Liberation Sans, Arial, sans-serif" font-weight="bold" font-size="16.0">5</text>
<line x1="226.7" x2="226.7" y1="705.2" y2="707.9" stroke="#000" stroke-width="1.2"/>
<line x1="239.6" x2="239.6" y1="705.2" y2="707.9" stroke="#000" stroke-width="1.2"/>
<line x1="251.3" x2="251.3" y1="705.2" y2="707.9" stroke="#000" stroke-width="1.2"/>
<line x1="262.1" x2="262.1" y1="705.2" y2="707.9" stroke="#000" stroke-width="1.2"/>
<line x1="272.2" x2="272.2" y1="705.2" y2="707.9" stroke="#000" stroke-width="1.2"/>
<line x1="281.5" x2="281.5" y1="705.2" y2="707.9" stroke="#000" stroke-width="1.2"/>
<line x1="290.2" x2="290.2" y1="705.2" y2="707.9" stroke="#000" stroke-width="1.2"/>
<line x1="298.4" x2="298.4" y1="705.2" y2="707.9" stroke="#000" stroke-width="1.2"/>
<line x1="306.1" x2="306.1" y1="705.2" y2="710.2" stroke="#000" stroke-width="1.6"/>
<text transform="translate(306.1,726.0) scale(0.9,1)" text-anchor="middle" font-family="Liberation Sans, Arial, sans-serif" font-weight="bold" font-size="16.0">10</text>
<line x1="313.4" x2="313.4" y1="705.2" y2="707.9" stroke="#000" stroke-width="1.2"/>
<line x1="320.4" x2="320.4" y1="705.2" y2="707.9" stroke="#000" stroke-width="1.2"/>
<line x1="327.0" x2="327.0" y1="705.2" y2="707.9" stroke="#000" stroke-width="1.2"/>
<line x1="333.2" x2="333.2" y1="705.2" y2="707.9" stroke="#000" stroke-width="1.2"/>
<line x1="339.2" x2="339.2" y1="705.2" y2="707.9" stroke="#000" stroke-width="1.2"/>
<line x1="345.0" x2="345.0" y1="705.2" y2="707.9" stroke="#000" stroke-width="1.2"/>
<line x1="350.5" x2="350.5" y1="705.2" y2="707.9" stroke="#000" stroke-width="1.2"/>
<line x1="355.8" x2="355.8" y1="705.2" y2="707.9" stroke="#000" stroke-width="1.2"/>
<line x1="360.9" x2="360.9" y1="705.2" y2="710.2" stroke="#000" stroke-width="1.6"/>
<text transform="translate(360.9,726.0) scale(0.9,1)" text-anchor="middle" font-family="Liberation Sans, Arial, sans-serif" font-weight="bold" font-size="16.0">15</text>
<line x1="365.8" x2="365.8" y1="705.2" y2="707.9" stroke="#000" stroke-width="1.2"/>
<line x1="370.6" x2="370.6" y1="705.2" y2="707.9" stroke="#000" stroke-width="1.2"/>
<line x1="375.2" x2="375.2" y1="705.2" y2="707.9" stroke="#000" stroke-width="1.2"/>
<line x1="379.6" x2="379.6" y1="705.2" y2="707.9" stroke="#000" stroke-width="1.2"/>
<line x1="383.9" x2="383.9" y1="705.2" y2="707.9" stroke="#000" stroke-width="1.2"/>
<line x1="388.0" x2="388.0" y1="705.2" y2="707.9" stroke="#000" stroke-width="1.2"/>
<line x1="392.1" x2="392.1" y1="705.2" y2="707.9" stroke="#000" stroke-width="1.2"/>
<line x1="396.0" x2="396.0" y1="705.2" y2="707.9" stroke="#000" stroke-width="1.2"/>
<line x1="399.8" x2="399.8" y1="705.2" y2="710.2" stroke="#000" stroke-width="1.6"/>
<text transform="translate(401.0,726.0) scale(0.9,1)" text-anchor="middle" font-family="Liberation Sans, Arial, sans-serif" font-weight="bold" font-size="16.0">20</text>
<text x="211.7" y="745.6" font-family="Liberation Sans, Arial, sans-serif" font-weight="bold" font-size="16.8">Q (nm<tspan dy="-7" font-size="11.6">-1</tspan><tspan dy="7">)</tspan></text>
<text transform="translate(38,632) rotate(-90)" font-family="Liberation Sans, Arial, sans-serif" font-weight="bold" font-size="16.7">Intensity (a.u.)</text>
<line x1="267.6" x2="298.0" y1="466.8" y2="466.8" stroke="#000" stroke-width="1.6"/>
<text x="301.6" y="472.0" font-family="Liberation Sans, Arial, sans-serif" font-weight="bold" font-size="16.4">in plane</text>
<line x1="267.6" x2="298.0" y1="487.8" y2="487.8" stroke="#e8141c" stroke-width="1.6"/>
<text x="301.6" y="493.2" font-family="Liberation Sans, Arial, sans-serif" font-weight="bold" font-size="16.4">out of plane</text>
<text x="190.5" y="520.5" textLength="154" lengthAdjust="spacingAndGlyphs" font-family="Liberation Sans, Arial, sans-serif" font-weight="bold" font-size="16.2">PM6:IM-4F (103 nm)</text>
<text x="195" y="587.5" textLength="131" lengthAdjust="spacingAndGlyphs" font-family="Liberation Sans, Arial, sans-serif" font-weight="bold" font-size="16.2">Ternary (106 nm)</text>
<text x="193" y="641.5" textLength="144" lengthAdjust="spacingAndGlyphs" font-family="Liberation Sans, Arial, sans-serif" font-weight="bold" font-size="16.2">PM6:IDIC (102 nm)</text>
<clipPath id="cld"><rect x="513.4" y="454.4" width="311.5" height="250.8"/></clipPath>
<g clip-path="url(#cld)">
<polyline points="513.6,548.4 514.0,547.6 514.6,546.4 515.3,544.9 516.1,543.7 516.8,542.6 517.6,542.0 518.4,541.4 519.2,541.1 520.0,540.9 520.6,540.7 521.1,540.7 521.4,540.9 521.7,541.2 522.1,541.4 522.5,541.1 523.2,540.4 523.9,539.4 524.7,538.2 525.5,536.9 526.4,536.0 527.3,535.2 528.2,534.5 529.2,533.8 530.2,533.1 531.1,532.1 532.1,531.2 533.0,530.1 533.9,529.0 534.9,527.8 535.9,526.4 537.0,524.8 538.1,523.2 539.3,521.4 540.5,519.6 541.6,517.8 542.8,516.1 543.9,514.3 545.1,512.6 546.2,510.9 547.4,509.3 548.5,507.4 549.7,505.7 550.8,503.9 551.9,502.2 553.1,500.6 554.2,499.1 555.4,497.5 556.5,495.9 557.7,494.6 558.8,493.3 560.0,492.3 561.1,491.5 562.3,490.7 563.4,490.0 564.6,489.5 565.7,489.2 566.9,489.0 568.1,488.9 569.3,488.8 570.3,488.8 571.1,488.8 571.9,488.7 572.6,488.8 573.3,488.8 574.1,489.3 575.0,489.6 575.9,490.4 576.9,491.1 577.9,492.1 578.9,493.0 579.8,494.1 580.8,495.3 581.8,496.6 582.8,497.7 583.6,498.8 584.5,499.6 585.2,500.3 585.9,501.1 586.7,501.6 587.5,502.1 588.4,502.5 589.3,502.9 590.3,503.2 591.3,503.6 592.2,504.2 593.2,504.7 594.1,505.4 595.1,506.4 596.1,507.2 597.0,508.3 598.0,509.5 599.0,510.7 599.9,512.1 600.9,513.4 601.8,514.4 602.6,515.2 603.4,516.1 604.1,516.8 604.9,517.2 605.6,517.5 606.4,517.3 607.1,517.0 607.9,516.5 608.7,516.0 609.4,515.9 610.2,516.1 610.9,516.5 611.7,517.1 612.5,517.8 613.2,518.8 614.0,520.1 614.7,521.5 615.5,523.3 616.2,524.9 617.1,526.4 617.9,527.7 618.9,528.7 619.8,529.9 620.8,530.6 621.8,531.6 622.9,532.3 624.0,532.9 625.1,533.5 626.3,534.0 627.6,534.6 628.9,535.4 630.4,536.0 631.9,536.8 633.5,537.6 635.2,537.7 637.1,538.1 639.1,537.8 641.2,537.7 643.1,537.2 644.7,536.9 646.0,536.5 647.0,535.9 647.9,535.7 648.7,534.9 649.5,534.1 650.3,532.9 651.1,531.6 651.9,530.1 652.6,528.6 653.3,527.5 654.1,526.0 654.9,525.3 655.6,524.3 656.4,523.3 657.2,522.7 657.9,522.2 658.7,521.9 659.4,521.7 660.2,521.7 661.0,522.0 661.7,522.4 662.5,523.4 663.3,523.9 664.0,524.8 664.8,525.4 665.5,526.0 666.2,526.1 666.9,526.4 667.7,526.6 668.6,527.3 669.7,528.3 670.9,529.7 672.2,531.3 673.4,533.0 674.5,534.1 675.6,534.9 676.5,536.0 677.5,536.7 678.4,537.5 679.3,537.8 680.3,538.0 681.2,537.5 682.2,537.3 683.1,536.4 684.1,536.2 685.0,535.4 686.0,534.3 687.0,533.8 687.9,532.9 688.9,532.7 689.8,532.8 690.7,533.7 691.7,534.1 692.6,535.0 693.6,535.0 694.7,534.7 695.9,533.8 697.0,532.7 698.2,532.1 699.4,531.3 700.5,530.5 701.6,530.3 702.7,529.8 703.8,529.0 705.1,528.7 706.5,528.8 708.1,528.7 709.7,529.1 711.3,529.0 712.7,529.0 714.0,528.5 715.3,528.1 716.5,527.4 717.5,526.8 718.5,526.5 719.2,526.2 719.7,526.0 720.2,526.1 720.7,526.7 721.3,526.9 722.1,527.7 723.0,528.8 723.9,530.1 724.9,531.3 726.1,532.3 727.4,532.8 728.9,533.3 730.5,533.8 732.2,534.1 733.7,534.2 735.3,533.9 736.8,533.8 738.3,533.4 739.8,532.9 741.4,532.0 742.9,531.4 744.5,530.8 746.1,529.9 747.6,528.8 749.0,528.3 750.2,528.0 751.3,527.6 752.4,527.3 753.5,527.0 754.7,526.9 756.1,526.8 757.7,527.1 759.2,527.4 760.8,527.8 762.4,527.8 763.9,527.7 765.4,527.5 767.0,527.4 768.5,527.4 770.0,527.0 771.6,526.4 773.2,526.0 774.7,525.2 776.2,524.9 777.6,524.5 778.9,524.8 780.1,525.2 781.2,526.0 782.3,526.9 783.4,527.6 784.5,528.2 785.6,528.9 786.7,529.6 787.8,530.6 789.1,530.8 790.5,530.7 792.1,530.3 793.7,529.8 795.3,529.5 796.7,529.5 798.0,529.2 799.2,529.0 800.3,528.9 801.4,528.7 802.5,528.8 803.6,529.2 804.7,529.3 805.8,529.9 806.9,530.5 808.2,531.2 809.6,532.0 811.1,533.1 812.6,534.5 814.2,535.6 815.8,537.0 817.7,537.9 819.7,539.2 821.7,540.3 823.4,541.1 824.6,541.7" fill="none" stroke="#000000" stroke-width="1.55" stroke-linejoin="round" stroke-linecap="round"/>
<polyline points="513.8,525.8 514.7,525.0 516.0,524.0 517.5,522.5 519.1,521.1 520.6,519.7 522.1,518.3 523.6,516.8 525.2,515.2 526.7,513.7 528.3,512.0 529.8,510.6 531.3,509.1 532.9,507.6 534.4,505.9 535.9,504.5 537.4,503.0 539.0,501.5 540.5,499.8 542.0,498.4 543.5,496.9 545.1,495.1 546.6,493.6 548.2,491.8 549.7,490.2 551.2,488.9 552.6,487.4 554.0,486.1 555.3,484.7 556.6,483.5 557.9,482.5 559.1,481.6 560.3,480.9 561.5,480.2 562.6,479.7 563.6,479.2 564.5,479.1 565.2,479.0 565.9,478.9 566.6,479.1 567.4,479.2 568.3,479.5 569.2,479.8 570.2,480.4 571.2,480.9 572.2,481.6 573.3,482.2 574.4,483.3 575.6,484.2 576.8,485.0 577.9,485.8 579.1,486.4 580.2,486.8 581.4,487.1 582.5,487.5 583.6,487.6 584.8,487.8 586.0,487.7 587.2,487.6 588.3,487.5 589.4,487.7 590.3,487.9 591.0,488.2 591.8,488.8 592.5,489.4 593.2,490.2 594.0,491.1 594.7,492.4 595.5,493.8 596.2,495.2 597.0,496.8 597.8,498.6 598.5,500.5 599.2,502.4 600.0,504.4 600.8,506.4 601.7,508.4 602.7,510.3 603.6,512.3 604.6,514.2 605.6,516.0 606.5,517.5 607.5,518.9 608.4,520.1 609.4,521.4 610.4,522.7 611.5,523.9 612.6,525.1 613.8,526.2 614.9,527.2 616.1,528.3 617.2,529.3 618.3,530.2 619.4,531.1 620.6,532.0 621.8,532.8 623.2,533.5 624.7,534.4 626.3,535.2 627.9,536.0 629.5,536.5 631.0,536.9 632.5,537.3 634.1,537.4 635.6,537.5 637.1,537.9 638.7,538.2 640.3,538.3 641.9,538.3 643.4,538.0 644.7,537.9 645.9,537.4 646.9,536.8 647.7,535.8 648.6,534.7 649.5,534.2 650.5,533.0 651.4,532.1 652.4,530.9 653.3,530.1 654.3,529.2 655.2,528.6 656.2,528.4 657.2,528.2 658.1,528.3 659.1,528.3 660.0,528.9 661.0,529.5 661.9,530.6 662.9,531.2 663.8,532.3 664.8,533.0 665.9,533.2 666.9,534.2 667.8,534.7 668.6,535.1 669.1,535.1 669.4,535.5 669.7,535.6 670.1,535.7 670.7,536.2 671.8,536.9 673.2,537.8 674.7,539.0 676.1,539.4 677.4,539.7 678.5,539.2 679.4,538.0 680.3,536.7 681.2,535.1 682.2,534.1 683.3,533.5 684.4,533.3 685.6,532.9 686.8,533.0 687.9,533.1 689.0,533.5 690.0,534.3 691.1,535.2 692.2,535.9 693.6,536.5 695.3,536.5 697.2,536.1 699.2,535.9 701.2,535.4 703.2,535.2 705.1,534.7 707.0,534.3 708.9,533.9 710.8,533.3 712.7,532.9 714.6,533.0 716.6,532.7 718.5,532.9 720.4,532.7 722.3,532.9 724.2,532.7 726.1,532.9 728.0,533.4 729.9,533.6 731.8,533.4 733.7,533.5 735.6,533.2 737.6,532.6 739.5,532.3 741.4,531.8 743.3,530.9 745.2,530.6 747.1,530.0 749.0,529.4 750.9,528.8 752.9,528.6 754.8,528.4 756.8,528.4 758.7,527.9 760.5,527.7 762.1,527.3 763.7,527.0 765.3,526.2 766.7,525.6 768.1,524.9 769.4,524.1 770.5,523.4 771.6,522.6 772.7,521.5 773.8,520.5 775.0,519.9 776.1,518.8 777.3,518.1 778.4,517.4 779.6,516.8 780.7,516.9 781.8,517.1 783.0,517.6 784.1,517.9 785.3,518.0 786.4,517.7 787.6,517.1 788.7,516.6 789.9,516.0 791.0,515.1 792.2,513.8 793.4,512.3 794.5,510.6 795.7,508.8 796.7,507.4 797.8,505.9 798.8,504.9 799.7,503.9 800.6,503.1 801.5,502.3 802.3,501.6 803.1,501.1 803.9,501.1 804.6,501.0 805.3,500.9 806.1,501.1 806.8,502.0 807.6,502.6 808.3,503.3 809.2,504.7 810.0,505.8 810.9,507.3 811.9,509.0 812.9,510.4 813.9,512.1 815.0,513.5 816.2,515.2 817.4,516.7 818.5,518.4 819.7,519.6 820.8,521.1 821.9,522.7 823.0,524.0 824.0,525.5 824.6,526.6" fill="none" stroke="#e8141c" stroke-width="1.55" stroke-linejoin="round" stroke-linecap="round"/>
<polyline points="513.8,607.3 514.7,606.4 516.1,605.6 517.6,604.3 519.2,603.1 520.6,602.1 521.9,601.0 523.0,600.0 524.1,599.0 525.2,598.1 526.4,597.2 527.5,596.5 528.7,595.6 529.9,594.9 531.1,594.1 532.1,593.5 532.9,592.7 533.7,592.3 534.3,591.8 535.1,590.9 535.9,590.0 536.9,588.7 538.1,587.1 539.3,585.4 540.5,583.6 541.6,582.1 542.8,580.4 543.9,579.0 545.1,577.4 546.2,575.9 547.4,574.3 548.5,572.6 549.7,570.9 550.8,569.1 551.9,567.3 553.1,565.8 554.2,564.3 555.4,562.9 556.5,561.5 557.7,560.3 558.8,559.0 560.0,557.9 561.1,556.9 562.3,555.8 563.4,555.0 564.6,554.3 565.7,553.9 566.9,553.3 568.1,553.2 569.2,553.0 570.3,553.0 571.3,552.9 572.3,553.0 573.2,553.2 574.1,553.3 575.1,553.8 576.0,554.4 577.0,555.2 577.9,556.2 578.9,557.1 579.8,558.1 580.8,559.3 581.8,560.5 582.8,561.6 583.7,562.8 584.6,563.9 585.4,564.9 586.1,565.8 586.9,566.8 587.6,567.5 588.4,568.2 589.3,568.9 590.3,569.2 591.2,569.7 592.2,570.0 593.2,570.6 594.1,571.2 595.1,572.0 596.1,572.7 597.0,573.5 598.0,574.4 598.9,575.1 599.9,576.0 600.9,576.7 601.8,577.4 602.7,578.2 603.6,578.7 604.3,579.3 605.1,579.8 605.8,580.1 606.6,580.5 607.3,580.6 608.1,580.3 608.8,580.3 609.6,580.2 610.4,580.5 611.1,581.0 611.9,581.9 612.7,582.9 613.4,583.8 614.2,584.8 614.9,585.9 615.7,587.2 616.4,588.4 617.2,589.4 618.0,590.7 618.9,591.7 619.9,592.7 620.8,593.7 621.8,594.5 622.8,595.4 623.7,596.1 624.6,596.9 625.4,597.6 626.4,598.2 627.6,598.8 628.9,599.3 630.4,599.8 632.0,600.3 633.6,600.5 635.2,600.7 636.8,601.0 638.3,600.8 639.9,601.0 641.4,600.9 642.8,600.9 644.1,600.6 645.3,600.6 646.4,600.2 647.5,600.1 648.6,599.6 649.6,599.0 650.6,598.0 651.5,596.6 652.5,595.6 653.3,594.6 654.2,593.5 654.9,592.3 655.7,591.0 656.4,590.2 657.2,589.0 657.9,588.7 658.7,588.2 659.4,588.0 660.2,587.8 661.0,587.6 661.7,587.9 662.5,588.4 663.3,589.4 664.0,590.1 664.8,590.5 665.6,590.9 666.4,591.5 667.2,591.7 668.0,592.2 668.6,592.4 669.1,592.8 669.4,593.3 669.7,593.4 670.1,593.8 670.7,594.4 671.6,595.3 672.8,595.7 674.0,596.6 675.3,597.4 676.5,598.2 677.6,598.9 678.7,599.7 679.9,600.0 681.0,600.8 682.2,601.1 683.3,601.5 684.5,601.8 685.6,602.0 686.8,601.9 687.9,602.1 689.0,601.8 690.1,601.7 691.2,601.2 692.4,600.7 693.6,600.4 695.0,599.3 696.6,598.4 698.1,597.6 699.7,597.0 701.3,596.1 702.8,596.1 704.3,595.6 705.9,595.5 707.4,595.6 708.9,595.2 710.5,595.1 712.1,595.2 713.6,594.9 715.1,594.5 716.6,594.6 717.8,594.2 719.0,594.1 720.1,593.6 721.2,593.6 722.3,593.9 723.3,594.6 724.2,595.4 725.1,596.3 726.0,597.4 727.1,598.2 728.3,598.7 729.5,599.1 730.9,599.8 732.3,599.8 733.7,600.1 735.2,599.9 736.8,600.1 738.4,599.9 740.0,599.3 741.4,599.4 742.6,599.0 743.8,598.5 744.9,598.1 746.0,597.5 747.1,596.7 748.2,596.2 749.3,595.5 750.4,594.7 751.6,594.3 752.8,593.9 754.2,593.6 755.7,593.8 757.3,593.6 758.9,593.7 760.5,593.7 762.0,593.7 763.6,593.9 765.2,593.7 766.7,593.7 768.1,593.6 769.4,593.4 770.5,593.1 771.6,593.1 772.7,592.5 773.8,592.5 775.0,592.4 776.2,592.0 777.3,591.6 778.5,591.7 779.6,591.7 780.6,591.9 781.5,592.1 782.5,592.8 783.4,593.4 784.3,594.0 785.2,594.4 786.1,595.3 787.0,595.9 788.0,596.3 789.1,596.9 790.4,597.1 792.0,597.5 793.5,597.5 795.2,597.9 796.7,597.6 798.3,597.6 799.9,597.2 801.5,596.5 803.0,596.3 804.4,596.2 805.6,596.7 806.7,597.4 807.8,598.3 808.9,599.2 810.1,600.0 811.5,601.3 813.1,602.4 814.7,603.6 816.2,604.8 817.7,606.0 819.3,607.0 820.9,608.0 822.4,608.9 823.7,609.6 824.6,610.2" fill="none" stroke="#000000" stroke-width="1.55" stroke-linejoin="round" stroke-linecap="round"/>
<polyline points="513.8,580.5 514.7,580.2 516.0,579.7 517.5,579.3 519.1,578.7 520.6,578.1 522.1,577.5 523.6,576.8 525.2,576.1 526.7,575.2 528.3,574.3 529.8,573.4 531.3,572.3 532.9,571.1 534.4,569.9 535.9,568.7 537.4,567.2 539.0,565.7 540.5,564.2 542.0,562.7 543.5,561.0 545.1,559.3 546.6,557.6 548.2,555.7 549.7,554.0 551.2,552.5 552.6,550.9 554.0,549.7 555.3,548.6 556.6,547.5 557.9,546.8 559.1,545.9 560.3,545.6 561.4,545.2 562.5,544.9 563.6,544.8 564.6,544.7 565.5,544.8 566.4,544.9 567.4,545.4 568.4,545.7 569.5,546.3 570.6,547.0 571.8,547.8 572.9,548.7 574.1,549.5 575.3,550.4 576.4,551.2 577.6,552.0 578.7,552.8 579.8,553.3 580.8,553.6 581.8,553.7 582.7,553.6 583.7,553.4 584.6,553.4 585.6,553.3 586.6,552.9 587.5,552.7 588.5,552.5 589.4,552.6 590.2,553.0 590.9,553.5 591.6,554.2 592.4,555.1 593.2,556.1 594.1,557.6 595.0,559.3 596.0,561.1 597.0,562.9 598.0,564.9 598.9,566.7 599.8,568.7 600.8,570.6 601.7,572.6 602.7,574.4 603.8,576.1 605.0,577.6 606.1,579.2 607.3,580.6 608.5,582.1 609.6,583.4 610.8,584.5 611.9,585.7 613.0,586.7 614.2,587.7 615.3,588.6 616.4,589.4 617.5,590.1 618.7,590.9 619.9,591.6 621.3,592.2 622.8,592.9 624.4,593.4 626.0,593.9 627.6,594.4 629.1,594.8 630.6,595.3 632.1,595.6 633.7,596.3 635.2,596.1 636.7,596.5 638.3,596.5 639.8,596.7 641.3,596.3 642.8,596.3 644.4,596.0 646.0,595.4 647.6,594.6 649.1,594.3 650.5,593.2 651.6,593.1 652.6,592.4 653.5,591.8 654.4,591.2 655.2,590.5 656.1,590.2 656.8,589.7 657.5,589.4 658.3,589.2 659.1,589.4 660.0,589.6 660.9,590.3 661.9,590.9 662.9,591.7 663.8,592.7 664.8,592.9 665.8,593.3 666.8,593.9 667.7,594.2 668.6,594.3 669.4,594.8 670.2,595.2 670.9,595.7 671.7,595.9 672.6,596.2 673.7,596.8 674.8,596.8 676.0,597.0 677.2,597.1 678.4,597.0 679.5,596.4 680.7,596.0 681.8,595.2 682.9,594.5 684.1,594.3 685.2,594.7 686.4,595.0 687.5,595.5 688.7,595.9 689.8,596.4 690.9,596.7 692.0,597.3 693.1,597.7 694.3,598.0 695.5,598.4 696.9,598.2 698.4,597.7 699.9,597.7 701.5,597.1 703.2,596.8 705.0,596.6 706.9,596.1 708.8,595.9 710.8,595.6 712.7,595.4 714.7,595.2 716.6,594.9 718.6,594.4 720.5,594.4 722.3,594.2 723.9,594.5 725.5,594.8 727.0,595.3 728.4,595.1 729.9,595.5 731.4,595.0 733.0,594.8 734.5,594.3 736.0,593.9 737.6,593.5 739.1,593.3 740.6,593.7 742.1,594.1 743.7,594.5 745.2,594.6 746.7,594.3 748.2,593.4 749.8,592.8 751.3,592.5 752.8,591.8 754.4,591.7 755.9,591.4 757.4,591.2 758.9,590.9 760.5,590.8 762.0,590.0 763.6,589.4 765.2,588.6 766.7,588.0 768.1,587.2 769.4,586.7 770.5,585.8 771.6,585.1 772.7,584.7 773.8,584.1 775.0,583.2 776.2,582.6 777.3,582.0 778.5,581.4 779.6,581.1 780.6,581.3 781.5,581.6 782.4,582.2 783.3,582.7 784.3,582.8 785.4,582.8 786.6,582.5 787.7,581.8 788.9,581.1 790.1,580.3 791.2,579.4 792.4,578.1 793.6,577.0 794.7,575.8 795.8,574.4 796.8,573.2 797.8,571.7 798.7,570.3 799.6,569.4 800.6,568.4 801.5,567.2 802.5,566.5 803.5,566.0 804.4,565.5 805.3,565.1 806.1,565.2 806.9,565.5 807.6,566.0 808.3,566.8 809.2,567.5 810.0,569.0 810.9,570.9 811.9,572.5 812.9,574.4 813.9,576.4 815.0,578.0 816.2,579.5 817.4,581.0 818.5,582.3 819.7,584.0 820.8,585.2 821.9,586.6 823.0,588.0 824.0,588.9 824.6,589.6" fill="none" stroke="#e8141c" stroke-width="1.55" stroke-linejoin="round" stroke-linecap="round"/>
<polyline points="513.8,673.8 514.6,673.4 515.8,673.0 517.2,672.3 518.5,671.3 519.7,670.4 520.6,669.7 521.3,668.5 522.0,667.7 522.7,666.5 523.5,665.9 524.4,665.3 525.3,665.2 526.3,664.6 527.2,664.2 528.3,663.9 529.4,663.6 530.5,662.9 531.7,662.4 532.8,662.0 534.0,661.1 535.1,659.8 536.3,658.9 537.4,657.1 538.6,655.7 539.7,654.4 540.9,653.0 542.1,651.8 543.2,650.1 544.4,649.0 545.5,647.6 546.5,646.5 547.4,645.9 548.4,645.1 549.3,643.9 550.2,642.7 551.2,641.5 552.1,640.1 553.0,638.3 554.0,637.1 555.0,635.1 556.1,633.8 557.3,632.2 558.5,630.4 559.6,629.1 560.7,627.5 561.8,626.8 562.8,625.8 563.7,625.3 564.6,624.8 565.5,624.6 566.3,624.7 567.1,624.7 567.8,625.1 568.5,625.8 569.3,626.8 570.2,627.6 571.2,628.7 572.1,629.9 573.1,631.0 574.1,632.7 575.1,633.8 576.0,635.1 577.0,636.4 577.9,638.0 578.9,639.1 579.8,640.5 580.7,642.1 581.7,643.2 582.6,644.8 583.6,645.9 584.7,646.8 585.9,647.6 587.1,648.6 588.3,649.3 589.4,649.8 590.4,650.8 591.4,651.3 592.4,651.7 593.3,652.0 594.1,651.9 595.0,652.0 595.7,651.4 596.5,651.0 597.2,650.5 598.0,650.1 598.7,649.2 599.5,648.5 600.3,648.1 601.0,647.0 601.8,646.9 602.5,646.5 603.3,646.6 604.1,646.5 604.8,646.5 605.6,646.8 606.3,647.4 607.1,647.9 607.8,648.7 608.6,650.0 609.4,650.6 610.3,651.5 611.3,652.1 612.3,652.6 613.3,653.3 614.2,654.3 615.0,655.7 615.7,656.7 616.5,657.7 617.2,658.9 618.0,660.4 618.9,661.3 619.9,662.3 620.8,663.6 621.8,664.6 622.8,665.9 623.7,666.8 624.6,668.2 625.6,669.1 626.5,670.2 627.6,671.7 628.7,672.9 629.9,674.1 631.1,675.5 632.2,677.1 633.3,677.2 634.2,677.1 635.0,676.9 635.7,676.8 636.4,676.1 637.1,676.3 637.7,678.0 638.3,680.0 638.8,683.2 639.4,684.6 640.0,685.6 640.7,685.7 641.4,684.9 642.2,683.3 643.0,681.5 643.8,679.6 644.6,679.8 645.4,679.2 646.1,677.7 646.9,677.6 647.6,677.9 648.2,678.8 648.8,680.2 649.3,682.4 649.9,684.5 650.5,685.9 651.2,687.7 651.9,689.8 652.7,691.8 653.5,693.4 654.3,693.8 655.1,693.5 655.8,692.4 656.6,691.6 657.3,690.1 658.1,689.3 658.9,687.0 659.6,683.7 660.4,681.2 661.2,678.6 661.9,676.5 662.7,674.9 663.5,672.2 664.3,670.9 665.1,669.0 665.7,668.3 666.3,666.7 666.7,666.2 667.0,665.4 667.4,665.2 667.9,665.2 668.4,665.0 669.0,665.5 669.6,666.5 670.2,667.6 670.7,668.8 671.2,670.4 671.6,673.0 671.9,675.6 672.3,677.9 672.6,680.0 673.0,681.4 673.3,683.0 673.6,684.4 674.0,685.5 674.5,686.7 675.2,687.9 676.0,687.2 676.8,687.7 677.6,687.6 678.4,688.7 679.0,690.3 679.6,693.4 680.2,696.1 680.7,697.6 681.2,698.7 681.7,699.3 682.0,696.9 682.4,695.1 682.7,693.4 683.1,692.2 683.7,691.6 684.2,691.8 684.8,692.9 685.4,693.7 686.0,693.1 686.6,693.4 687.1,691.5 687.7,690.7 688.2,690.1 688.9,689.2 689.6,688.5 690.3,687.7 691.1,686.6 691.9,686.1 692.7,685.9 693.4,685.9 694.2,685.8 695.0,686.3 695.7,686.7 696.5,686.3 697.3,686.8 698.1,685.9 698.9,686.1 699.6,685.3 700.3,685.5 701.0,686.6 701.5,688.1 702.1,689.7 702.6,690.2 703.2,690.1 703.7,688.1 704.3,685.6 704.8,682.6 705.4,680.5 706.1,678.7 706.7,677.4 707.5,678.8 708.2,679.8 709.0,681.0 709.9,681.7 710.7,681.1 711.7,681.0 712.6,680.5 713.6,680.1 714.6,680.6 715.7,680.1 716.9,679.7 718.1,678.7 719.3,678.8 720.4,677.7 721.4,678.2 722.4,678.1 723.4,678.2 724.3,679.3 725.1,678.7 725.8,680.7 726.4,681.6 727.0,683.3 727.5,683.6 728.0,684.5 728.6,683.4 729.1,682.0 729.7,680.4 730.2,678.3 730.9,677.5 731.6,676.3 732.3,675.7 733.0,676.2 733.8,675.2 734.7,675.9 735.6,674.7 736.5,675.1 737.4,674.0 738.4,674.1 739.5,673.3 740.5,673.4 741.7,672.4 742.9,672.1 744.0,671.8 745.2,672.2 746.3,671.6 747.5,670.4 748.6,670.5 749.8,669.8 750.9,668.3 752.1,668.3 753.2,667.3 754.4,667.0 755.5,666.3 756.6,665.5 757.8,665.1 759.0,663.7 760.2,662.8 761.3,661.5 762.4,660.8 763.4,660.6 764.4,659.3 765.4,659.5 766.3,658.0 767.1,657.7 768.0,658.1 768.7,658.9 769.4,659.4 770.2,660.1 771.0,661.0 771.8,661.2 772.8,660.8 773.7,661.6 774.7,661.1 775.7,661.6 776.8,661.6 778.0,662.5 779.1,662.7 780.3,662.9 781.5,662.6 782.6,662.4 783.8,662.4 784.9,662.7 786.1,662.4 787.2,661.4 788.3,660.6 789.5,660.4 790.6,660.9 791.8,659.5 792.9,659.5 794.1,658.6 795.2,658.6 796.3,657.9 797.4,658.2 798.7,657.8 800.0,657.0 801.3,657.1 802.8,656.7 804.1,656.3 805.3,656.6 806.4,655.8 807.3,655.9 808.2,656.8 809.1,656.7 810.1,657.5 811.2,658.4 812.4,660.0 813.6,660.9 814.7,662.3 815.8,663.7 816.9,665.5 817.9,666.1 818.8,667.3 819.7,668.2 820.6,668.5 821.5,669.9 822.5,670.9 823.3,671.4 824.1,672.1 824.6,672.5" fill="none" stroke="#000000" stroke-width="1.55" stroke-linejoin="round" stroke-linecap="round"/>
<polyline points="520.3,695.4 520.5,693.5 520.9,691.2 521.3,688.4 521.8,685.0 522.2,682.1 522.5,679.0 522.9,675.8 523.3,673.0 523.7,669.8 524.1,666.6 524.5,664.2 524.9,661.6 525.3,659.3 525.8,657.0 526.4,655.4 527.0,653.8 527.8,652.8 528.6,651.5 529.4,650.8 530.2,649.6 530.9,648.4 531.7,646.8 532.5,645.8 533.2,644.3 534.0,642.8 534.7,641.5 535.4,640.5 536.2,638.8 536.9,637.7 537.8,636.2 538.8,634.7 540.0,633.5 541.2,631.6 542.4,630.0 543.5,628.4 544.7,627.0 545.8,625.3 547.0,623.8 548.1,622.6 549.3,621.2 550.4,619.4 551.5,618.2 552.6,617.1 553.8,615.4 555.0,614.2 556.3,613.1 557.7,611.8 559.0,611.0 560.4,610.1 561.7,609.3 562.9,608.4 564.1,608.1 565.2,607.7 566.3,607.4 567.4,607.1 568.4,607.2 569.3,607.1 570.3,607.5 571.2,607.4 572.2,607.8 573.3,608.7 574.4,609.1 575.6,609.9 576.8,610.8 577.9,611.8 579.1,612.8 580.2,614.5 581.4,616.1 582.5,617.3 583.6,619.0 584.8,620.8 585.9,622.8 587.1,624.7 588.2,626.7 589.4,628.7 590.5,630.5 591.7,632.6 592.8,634.5 594.0,636.5 595.1,638.3 596.2,640.1 597.4,641.3 598.5,643.0 599.7,644.5 600.8,645.7 602.0,647.1 603.1,648.2 604.3,649.5 605.4,650.7 606.6,651.4 607.7,652.5 608.9,653.4 610.1,654.4 611.2,655.3 612.3,655.6 613.3,655.1 614.2,654.4 615.1,653.5 616.1,653.1 617.1,652.7 618.2,652.1 619.4,652.3 620.7,652.4 621.8,652.7 622.8,653.5 623.5,654.7 624.1,656.0 624.6,658.0 625.1,659.6 625.6,661.0 626.4,662.6 627.1,663.7 627.9,665.2 628.7,666.6 629.5,667.6 630.2,669.0 631.0,670.7 631.8,672.4 632.5,672.9 633.3,673.5 634.1,672.8 634.9,670.4 635.6,668.5 636.4,667.2 637.1,666.2 637.7,666.1 638.3,667.0 638.8,667.6 639.4,669.5 640.0,671.4 640.7,673.2 641.5,676.3 642.3,679.3 643.1,682.0 643.8,684.1 644.4,685.6 645.0,687.2 645.6,687.5 646.1,688.5 646.7,689.4 647.2,690.7 647.8,692.7 648.3,693.4 648.9,694.7 649.5,694.5 650.2,693.8 651.0,692.7 651.8,690.4 652.6,689.5 653.3,688.6 654.0,689.0 654.5,689.8 655.0,691.2 655.6,691.9 656.2,691.1 656.9,690.5 657.7,688.3 658.5,685.9 659.3,683.4 660.0,682.5 660.6,680.6 661.1,679.7 661.6,679.1 662.1,679.5 662.9,679.2 663.9,679.7 665.2,681.4 666.5,683.4 667.8,685.8 668.8,686.3 669.6,687.8 670.2,689.5 670.7,689.8 671.2,690.9 671.7,691.1 672.3,689.8 672.8,688.6 673.4,686.5 674.0,684.8 674.5,682.7 675.1,679.8 675.7,677.4 676.3,674.6 676.8,671.9 677.4,668.6 678.0,666.2 678.6,663.2 679.1,661.0 679.7,658.3 680.3,655.2 680.8,652.9 681.4,650.8 682.0,648.1 682.6,645.3 683.1,643.9 683.7,642.1 684.3,641.3 684.9,641.3 685.5,640.2 686.0,640.6 686.5,641.0 687.0,641.6 687.4,641.8 687.8,642.6 688.3,644.8 688.8,647.7 689.3,651.5 689.7,655.4 690.3,658.0 690.8,661.0 691.3,662.8 691.9,663.0 692.5,663.9 693.1,664.2 693.6,663.8 694.1,664.3 694.5,663.7 694.8,664.5 695.2,665.2 695.5,666.2 696.0,667.9 696.4,671.6 696.9,673.8 697.4,677.7 697.8,679.7 698.3,682.0 698.8,683.4 699.3,684.5 699.8,686.5 700.3,687.2 700.9,687.6 701.4,687.7 702.0,688.4 702.6,688.0 703.2,687.9 703.7,687.0 704.2,685.8 704.8,683.2 705.4,681.4 706.1,679.8 706.9,679.6 707.8,678.4 708.8,676.9 709.8,676.2 710.8,675.8 711.9,674.7 713.0,674.0 714.2,673.0 715.4,672.5 716.6,671.0 717.7,670.2 718.8,669.8 720.0,668.8 721.1,667.4 722.3,667.0 723.4,666.7 724.6,667.0 725.7,667.9 726.9,668.7 728.0,669.2 729.1,668.6 730.2,669.0 731.3,669.1 732.5,669.5 733.7,669.6 735.2,669.5 736.7,669.0 738.4,668.6 739.9,667.7 741.4,667.3 742.6,666.8 743.8,667.0 744.9,666.4 746.0,665.1 747.1,665.4 748.2,664.3 749.4,663.3 750.5,661.7 751.7,660.8 752.8,660.2 754.0,659.2 755.1,658.8 756.3,658.3 757.4,657.8 758.6,657.1 759.7,657.6 760.8,656.7 762.0,657.1 763.1,656.8 764.3,656.4 765.4,656.6 766.5,656.7 767.6,656.8 768.7,655.9 770.0,655.3 771.4,655.5 772.9,654.4 774.5,654.5 776.1,653.6 777.6,653.7 779.2,653.2 780.8,652.6 782.4,651.4 783.9,651.2 785.3,650.0 786.5,648.7 787.6,648.2 788.7,646.4 789.8,646.0 791.0,644.7 792.5,642.5 794.0,642.0 795.6,640.5 797.2,638.8 798.7,638.2 800.0,637.3 801.2,635.7 802.4,635.0 803.4,634.9 804.4,633.7 805.1,633.8 805.7,632.8 806.2,632.7 806.7,632.2 807.2,631.9 807.8,633.1 808.3,633.2 808.8,634.4 809.4,635.8 810.1,637.3 811.1,639.2 812.2,642.1 813.5,646.1 814.7,649.3 815.8,651.4 816.9,654.0 817.9,656.4 818.8,657.3 819.7,659.5 820.6,661.4 821.5,662.9 822.5,664.4 823.3,666.1 824.1,666.8 824.6,667.5" fill="none" stroke="#e8141c" stroke-width="1.55" stroke-linejoin="round" stroke-linecap="round"/>
</g>
<rect x="513.4" y="454.4" width="311.5" height="250.8" fill="none" stroke="#000" stroke-width="1.7"/>
<line x1="508.2" x2="513.4" y1="690.2" y2="690.2" stroke="#000" stroke-width="1.6"/>
<text transform="translate(505.3,695.9) scale(0.95,1)" text-anchor="end" font-family="Liberation Sans, Arial, sans-serif" font-weight="bold" font-size="15.7">10<tspan dy="-6.8" font-size="10.8">-1</tspan></text>
<line x1="508.2" x2="513.4" y1="640.0" y2="640.0" stroke="#000" stroke-width="1.6"/>
<text transform="translate(505.3,645.7) scale(0.95,1)" text-anchor="end" font-family="Liberation Sans, Arial, sans-serif" font-weight="bold" font-size="15.7">10<tspan dy="-6.8" font-size="10.8">0</tspan></text>
<line x1="508.2" x2="513.4" y1="589.8" y2="589.8" stroke="#000" stroke-width="1.6"/>
<text transform="translate(505.3,595.5) scale(0.95,1)" text-anchor="end" font-family="Liberation Sans, Arial, sans-serif" font-weight="bold" font-size="15.7">10<tspan dy="-6.8" font-size="10.8">1</tspan></text>
<line x1="508.2" x2="513.4" y1="539.6" y2="539.6" stroke="#000" stroke-width="1.6"/>
<text transform="translate(505.3,545.3) scale(0.95,1)" text-anchor="end" font-family="Liberation Sans, Arial, sans-serif" font-weight="bold" font-size="15.7">10<tspan dy="-6.8" font-size="10.8">2</tspan></text>
<line x1="508.2" x2="513.4" y1="489.4" y2="489.4" stroke="#000" stroke-width="1.6"/>
<text transform="translate(505.3,495.1) scale(0.95,1)" text-anchor="end" font-family="Liberation Sans, Arial, sans-serif" font-weight="bold" font-size="15.7">10<tspan dy="-6.8" font-size="10.8">3</tspan></text>
<line x1="510.6" x2="513.4" y1="701.3" y2="701.3" stroke="#000" stroke-width="1.2"/>
<line x1="510.6" x2="513.4" y1="698.0" y2="698.0" stroke="#000" stroke-width="1.2"/>
<line x1="510.6" x2="513.4" y1="695.1" y2="695.1" stroke="#000" stroke-width="1.2"/>
<line x1="510.6" x2="513.4" y1="692.5" y2="692.5" stroke="#000" stroke-width="1.2"/>
<line x1="510.6" x2="513.4" y1="675.1" y2="675.1" stroke="#000" stroke-width="1.2"/>
<line x1="510.6" x2="513.4" y1="666.2" y2="666.2" stroke="#000" stroke-width="1.2"/>
<line x1="510.6" x2="513.4" y1="660.0" y2="660.0" stroke="#000" stroke-width="1.2"/>
<line x1="510.6" x2="513.4" y1="655.1" y2="655.1" stroke="#000" stroke-width="1.2"/>
<line x1="510.6" x2="513.4" y1="651.1" y2="651.1" stroke="#000" stroke-width="1.2"/>
<line x1="510.6" x2="513.4" y1="647.8" y2="647.8" stroke="#000" stroke-width="1.2"/>
<line x1="510.6" x2="513.4" y1="644.9" y2="644.9" stroke="#000" stroke-width="1.2"/>
<line x1="510.6" x2="513.4" y1="642.3" y2="642.3" stroke="#000" stroke-width="1.2"/>
<line x1="510.6" x2="513.4" y1="624.9" y2="624.9" stroke="#000" stroke-width="1.2"/>
<line x1="510.6" x2="513.4" y1="616.0" y2="616.0" stroke="#000" stroke-width="1.2"/>
<line x1="510.6" x2="513.4" y1="609.8" y2="609.8" stroke="#000" stroke-width="1.2"/>
<line x1="510.6" x2="513.4" y1="604.9" y2="604.9" stroke="#000" stroke-width="1.2"/>
<line x1="510.6" x2="513.4" y1="600.9" y2="600.9" stroke="#000" stroke-width="1.2"/>
<line x1="510.6" x2="513.4" y1="597.6" y2="597.6" stroke="#000" stroke-width="1.2"/>
<line x1="510.6" x2="513.4" y1="594.7" y2="594.7" stroke="#000" stroke-width="1.2"/>
<line x1="510.6" x2="513.4" y1="592.1" y2="592.1" stroke="#000" stroke-width="1.2"/>
<line x1="510.6" x2="513.4" y1="574.7" y2="574.7" stroke="#000" stroke-width="1.2"/>
<line x1="510.6" x2="513.4" y1="565.8" y2="565.8" stroke="#000" stroke-width="1.2"/>
<line x1="510.6" x2="513.4" y1="559.6" y2="559.6" stroke="#000" stroke-width="1.2"/>
<line x1="510.6" x2="513.4" y1="554.7" y2="554.7" stroke="#000" stroke-width="1.2"/>
<line x1="510.6" x2="513.4" y1="550.7" y2="550.7" stroke="#000" stroke-width="1.2"/>
<line x1="510.6" x2="513.4" y1="547.4" y2="547.4" stroke="#000" stroke-width="1.2"/>
<line x1="510.6" x2="513.4" y1="544.5" y2="544.5" stroke="#000" stroke-width="1.2"/>
<line x1="510.6" x2="513.4" y1="541.9" y2="541.9" stroke="#000" stroke-width="1.2"/>
<line x1="510.6" x2="513.4" y1="524.5" y2="524.5" stroke="#000" stroke-width="1.2"/>
<line x1="510.6" x2="513.4" y1="515.6" y2="515.6" stroke="#000" stroke-width="1.2"/>
<line x1="510.6" x2="513.4" y1="509.4" y2="509.4" stroke="#000" stroke-width="1.2"/>
<line x1="510.6" x2="513.4" y1="504.5" y2="504.5" stroke="#000" stroke-width="1.2"/>
<line x1="510.6" x2="513.4" y1="500.5" y2="500.5" stroke="#000" stroke-width="1.2"/>
<line x1="510.6" x2="513.4" y1="497.2" y2="497.2" stroke="#000" stroke-width="1.2"/>
<line x1="510.6" x2="513.4" y1="494.3" y2="494.3" stroke="#000" stroke-width="1.2"/>
<line x1="510.6" x2="513.4" y1="491.7" y2="491.7" stroke="#000" stroke-width="1.2"/>
<line x1="510.6" x2="513.4" y1="474.3" y2="474.3" stroke="#000" stroke-width="1.2"/>
<line x1="510.6" x2="513.4" y1="465.4" y2="465.4" stroke="#000" stroke-width="1.2"/>
<line x1="510.6" x2="513.4" y1="459.2" y2="459.2" stroke="#000" stroke-width="1.2"/>
<line x1="510.6" x2="513.4" y1="454.3" y2="454.3" stroke="#000" stroke-width="1.2"/>
<line x1="527.7" x2="527.7" y1="705.2" y2="707.9" stroke="#000" stroke-width="1.2"/>
<line x1="557.8" x2="557.8" y1="705.2" y2="707.9" stroke="#000" stroke-width="1.2"/>
<line x1="582.5" x2="582.5" y1="705.2" y2="707.9" stroke="#000" stroke-width="1.2"/>
<line x1="603.4" x2="603.4" y1="705.2" y2="707.9" stroke="#000" stroke-width="1.2"/>
<line x1="621.4" x2="621.4" y1="705.2" y2="707.9" stroke="#000" stroke-width="1.2"/>
<line x1="637.4" x2="637.4" y1="705.2" y2="710.2" stroke="#000" stroke-width="1.6"/>
<text transform="translate(637.4,726.0) scale(0.9,1)" text-anchor="middle" font-family="Liberation Sans, Arial, sans-serif" font-weight="bold" font-size="16.0">5</text>
<line x1="651.6" x2="651.6" y1="705.2" y2="707.9" stroke="#000" stroke-width="1.2"/>
<line x1="664.5" x2="664.5" y1="705.2" y2="707.9" stroke="#000" stroke-width="1.2"/>
<line x1="676.3" x2="676.3" y1="705.2" y2="707.9" stroke="#000" stroke-width="1.2"/>
<line x1="687.1" x2="687.1" y1="705.2" y2="707.9" stroke="#000" stroke-width="1.2"/>
<line x1="697.1" x2="697.1" y1="705.2" y2="707.9" stroke="#000" stroke-width="1.2"/>
<line x1="706.5" x2="706.5" y1="705.2" y2="707.9" stroke="#000" stroke-width="1.2"/>
<line x1="715.2" x2="715.2" y1="705.2" y2="707.9" stroke="#000" stroke-width="1.2"/>
<line x1="723.4" x2="723.4" y1="705.2" y2="707.9" stroke="#000" stroke-width="1.2"/>
<line x1="731.1" x2="731.1" y1="705.2" y2="710.2" stroke="#000" stroke-width="1.6"/>
<text transform="translate(731.1,726.0) scale(0.9,1)" text-anchor="middle" font-family="Liberation Sans, Arial, sans-serif" font-weight="bold" font-size="16.0">10</text>
<line x1="738.4" x2="738.4" y1="705.2" y2="707.9" stroke="#000" stroke-width="1.2"/>
<line x1="745.4" x2="745.4" y1="705.2" y2="707.9" stroke="#000" stroke-width="1.2"/>
<line x1="752.0" x2="752.0" y1="705.2" y2="707.9" stroke="#000" stroke-width="1.2"/>
<line x1="758.3" x2="758.3" y1="705.2" y2="707.9" stroke="#000" stroke-width="1.2"/>
<line x1="764.3" x2="764.3" y1="705.2" y2="707.9" stroke="#000" stroke-width="1.2"/>
<line x1="770.0" x2="770.0" y1="705.2" y2="707.9" stroke="#000" stroke-width="1.2"/>
<line x1="775.6" x2="775.6" y1="705.2" y2="707.9" stroke="#000" stroke-width="1.2"/>
<line x1="780.9" x2="780.9" y1="705.2" y2="707.9" stroke="#000" stroke-width="1.2"/>
<line x1="786.0" x2="786.0" y1="705.2" y2="710.2" stroke="#000" stroke-width="1.6"/>
<text transform="translate(786.0,726.0) scale(0.9,1)" text-anchor="middle" font-family="Liberation Sans, Arial, sans-serif" font-weight="bold" font-size="16.0">15</text>
<line x1="790.9" x2="790.9" y1="705.2" y2="707.9" stroke="#000" stroke-width="1.2"/>
<line x1="795.6" x2="795.6" y1="705.2" y2="707.9" stroke="#000" stroke-width="1.2"/>
<line x1="800.2" x2="800.2" y1="705.2" y2="707.9" stroke="#000" stroke-width="1.2"/>
<line x1="804.7" x2="804.7" y1="705.2" y2="707.9" stroke="#000" stroke-width="1.2"/>
<line x1="809.0" x2="809.0" y1="705.2" y2="707.9" stroke="#000" stroke-width="1.2"/>
<line x1="813.1" x2="813.1" y1="705.2" y2="707.9" stroke="#000" stroke-width="1.2"/>
<line x1="817.2" x2="817.2" y1="705.2" y2="707.9" stroke="#000" stroke-width="1.2"/>
<line x1="821.1" x2="821.1" y1="705.2" y2="707.9" stroke="#000" stroke-width="1.2"/>
<line x1="824.9" x2="824.9" y1="705.2" y2="710.2" stroke="#000" stroke-width="1.6"/>
<text transform="translate(826.1,726.0) scale(0.9,1)" text-anchor="middle" font-family="Liberation Sans, Arial, sans-serif" font-weight="bold" font-size="16.0">20</text>
<text x="637.4" y="744.8" font-family="Liberation Sans, Arial, sans-serif" font-weight="bold" font-size="16.8">Q (nm<tspan dy="-7" font-size="11.6">-1</tspan><tspan dy="7">)</tspan></text>
<text transform="translate(463.2,630) rotate(-90)" font-family="Liberation Sans, Arial, sans-serif" font-weight="bold" font-size="16.7">Intensity (a.u.)</text>
<line x1="694.4" x2="724.8" y1="466.6" y2="466.6" stroke="#000" stroke-width="1.6"/>
<text x="728.4" y="471.8" font-family="Liberation Sans, Arial, sans-serif" font-weight="bold" font-size="16.4">in plane</text>
<line x1="694.4" x2="724.8" y1="487.6" y2="487.6" stroke="#e8141c" stroke-width="1.6"/>
<text x="728.4" y="493.0" font-family="Liberation Sans, Arial, sans-serif" font-weight="bold" font-size="16.4">out of plane</text>
<text x="614" y="513.5" textLength="154" lengthAdjust="spacingAndGlyphs" font-family="Liberation Sans, Arial, sans-serif" font-weight="bold" font-size="16.2">PM6:IM-4F (275 nm)</text>
<text x="621" y="581.5" textLength="131" lengthAdjust="spacingAndGlyphs" font-family="Liberation Sans, Arial, sans-serif" font-weight="bold" font-size="16.2">Ternary (282 nm)</text>
<text x="619" y="637.5" textLength="144" lengthAdjust="spacingAndGlyphs" font-family="Liberation Sans, Arial, sans-serif" font-weight="bold" font-size="16.2">PM6:IDIC (261 nm)</text>
</svg>
</body></html>
